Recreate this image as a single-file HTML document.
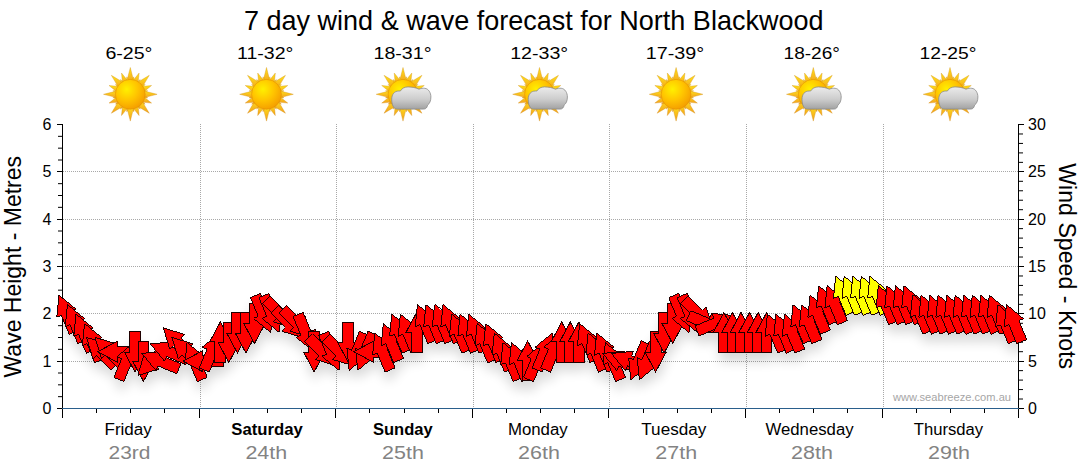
<!DOCTYPE html><html><head><meta charset="utf-8"><style>html,body{margin:0;padding:0;background:#fff;}svg{display:block;}text{font-family:"Liberation Sans",sans-serif;}</style></head><body>
<svg width="1080" height="475" viewBox="0 0 1080 475">
<defs>
<radialGradient id="disc" cx="0.38" cy="0.33" r="0.75">
<stop offset="0" stop-color="#fff000"/><stop offset="0.5" stop-color="#ffc400"/><stop offset="1" stop-color="#f39800"/></radialGradient>
<linearGradient id="ray" x1="0" y1="0" x2="0" y2="1">
<stop offset="0" stop-color="#ffe21a"/><stop offset="1" stop-color="#f3a01e"/></linearGradient>
<linearGradient id="cloud" x1="0" y1="0" x2="0" y2="1">
<stop offset="0" stop-color="#ebebeb"/><stop offset="0.55" stop-color="#cdcdcd"/><stop offset="1" stop-color="#a2a2a2"/></linearGradient>
<clipPath id="plotclip"><rect x="63" y="100" width="955" height="308"/></clipPath>
<filter id="shadow" x="-20%" y="-50%" width="140%" height="250%"><feGaussianBlur stdDeviation="6"/></filter>
</defs>
<rect width="1080" height="475" fill="#fff"/>
<text x="244" y="29.7" font-size="28.3" textLength="579.5" lengthAdjust="spacingAndGlyphs" fill="#000">7 day wind &amp; wave forecast for North Blackwood</text>
<text x="105.4" y="58.7" font-size="16" textLength="47" lengthAdjust="spacingAndGlyphs" fill="#000">6-25°</text>
<text x="237.0" y="58.7" font-size="16" textLength="56.3" lengthAdjust="spacingAndGlyphs" fill="#000">11-32°</text>
<text x="373.5" y="58.7" font-size="16" textLength="58" lengthAdjust="spacingAndGlyphs" fill="#000">18-31°</text>
<text x="510.2" y="58.7" font-size="16" textLength="58" lengthAdjust="spacingAndGlyphs" fill="#000">12-33°</text>
<text x="645.8" y="58.7" font-size="16" textLength="58.4" lengthAdjust="spacingAndGlyphs" fill="#000">17-39°</text>
<text x="783.6" y="58.7" font-size="16" textLength="56.3" lengthAdjust="spacingAndGlyphs" fill="#000">18-26°</text>
<text x="919.5" y="58.7" font-size="16" textLength="57" lengthAdjust="spacingAndGlyphs" fill="#000">12-25°</text>
<g transform="translate(130.3,94.3)"><path d="M0.00,-26.80L4.00,-11.00L-4.00,-11.00Z" fill="url(#ray)" stroke="#d08a10" stroke-width="0.35"/><path d="M3.47,-17.46L4.30,-10.36L-0.01,-11.22Z" fill="url(#ray)" stroke="#d08a10" stroke-width="0.35"/><path d="M8.80,-21.25L7.54,-8.79L0.88,-11.54Z" fill="url(#ray)" stroke="#d08a10" stroke-width="0.35"/><path d="M9.89,-14.80L7.94,-7.92L4.28,-10.37Z" fill="url(#ray)" stroke="#d08a10" stroke-width="0.35"/><path d="M18.95,-18.95L10.61,-4.95L4.95,-10.61Z" fill="url(#ray)" stroke="#d08a10" stroke-width="0.35"/><path d="M14.80,-9.89L10.37,-4.28L7.92,-7.94Z" fill="url(#ray)" stroke="#d08a10" stroke-width="0.35"/><path d="M21.25,-8.80L11.54,-0.88L8.79,-7.54Z" fill="url(#ray)" stroke="#d08a10" stroke-width="0.35"/><path d="M17.46,-3.47L11.22,0.01L10.36,-4.30Z" fill="url(#ray)" stroke="#d08a10" stroke-width="0.35"/><path d="M26.80,-0.00L11.00,4.00L11.00,-4.00Z" fill="url(#ray)" stroke="#d08a10" stroke-width="0.35"/><path d="M17.46,3.47L10.36,4.30L11.22,-0.01Z" fill="url(#ray)" stroke="#d08a10" stroke-width="0.35"/><path d="M21.25,8.80L8.79,7.54L11.54,0.88Z" fill="url(#ray)" stroke="#d08a10" stroke-width="0.35"/><path d="M14.80,9.89L7.92,7.94L10.37,4.28Z" fill="url(#ray)" stroke="#d08a10" stroke-width="0.35"/><path d="M18.95,18.95L4.95,10.61L10.61,4.95Z" fill="url(#ray)" stroke="#d08a10" stroke-width="0.35"/><path d="M9.89,14.80L4.28,10.37L7.94,7.92Z" fill="url(#ray)" stroke="#d08a10" stroke-width="0.35"/><path d="M8.80,21.25L0.88,11.54L7.54,8.79Z" fill="url(#ray)" stroke="#d08a10" stroke-width="0.35"/><path d="M3.47,17.46L-0.01,11.22L4.30,10.36Z" fill="url(#ray)" stroke="#d08a10" stroke-width="0.35"/><path d="M0.00,26.80L-4.00,11.00L4.00,11.00Z" fill="url(#ray)" stroke="#d08a10" stroke-width="0.35"/><path d="M-3.47,17.46L-4.30,10.36L0.01,11.22Z" fill="url(#ray)" stroke="#d08a10" stroke-width="0.35"/><path d="M-8.80,21.25L-7.54,8.79L-0.88,11.54Z" fill="url(#ray)" stroke="#d08a10" stroke-width="0.35"/><path d="M-9.89,14.80L-7.94,7.92L-4.28,10.37Z" fill="url(#ray)" stroke="#d08a10" stroke-width="0.35"/><path d="M-18.95,18.95L-10.61,4.95L-4.95,10.61Z" fill="url(#ray)" stroke="#d08a10" stroke-width="0.35"/><path d="M-14.80,9.89L-10.37,4.28L-7.92,7.94Z" fill="url(#ray)" stroke="#d08a10" stroke-width="0.35"/><path d="M-21.25,8.80L-11.54,0.88L-8.79,7.54Z" fill="url(#ray)" stroke="#d08a10" stroke-width="0.35"/><path d="M-17.46,3.47L-11.22,-0.01L-10.36,4.30Z" fill="url(#ray)" stroke="#d08a10" stroke-width="0.35"/><path d="M-26.80,0.00L-11.00,-4.00L-11.00,4.00Z" fill="url(#ray)" stroke="#d08a10" stroke-width="0.35"/><path d="M-17.46,-3.47L-10.36,-4.30L-11.22,0.01Z" fill="url(#ray)" stroke="#d08a10" stroke-width="0.35"/><path d="M-21.25,-8.80L-8.79,-7.54L-11.54,-0.88Z" fill="url(#ray)" stroke="#d08a10" stroke-width="0.35"/><path d="M-14.80,-9.89L-7.92,-7.94L-10.37,-4.28Z" fill="url(#ray)" stroke="#d08a10" stroke-width="0.35"/><path d="M-18.95,-18.95L-4.95,-10.61L-10.61,-4.95Z" fill="url(#ray)" stroke="#d08a10" stroke-width="0.35"/><path d="M-9.89,-14.80L-4.28,-10.37L-7.94,-7.92Z" fill="url(#ray)" stroke="#d08a10" stroke-width="0.35"/><path d="M-8.80,-21.25L-0.88,-11.54L-7.54,-8.79Z" fill="url(#ray)" stroke="#d08a10" stroke-width="0.35"/><path d="M-3.47,-17.46L0.01,-11.22L-4.30,-10.36Z" fill="url(#ray)" stroke="#d08a10" stroke-width="0.35"/><circle r="14.9" fill="url(#disc)" stroke="#e08a00" stroke-width="0.5"/></g>
<g transform="translate(266.5,94.3)"><path d="M0.00,-26.80L4.00,-11.00L-4.00,-11.00Z" fill="url(#ray)" stroke="#d08a10" stroke-width="0.35"/><path d="M3.47,-17.46L4.30,-10.36L-0.01,-11.22Z" fill="url(#ray)" stroke="#d08a10" stroke-width="0.35"/><path d="M8.80,-21.25L7.54,-8.79L0.88,-11.54Z" fill="url(#ray)" stroke="#d08a10" stroke-width="0.35"/><path d="M9.89,-14.80L7.94,-7.92L4.28,-10.37Z" fill="url(#ray)" stroke="#d08a10" stroke-width="0.35"/><path d="M18.95,-18.95L10.61,-4.95L4.95,-10.61Z" fill="url(#ray)" stroke="#d08a10" stroke-width="0.35"/><path d="M14.80,-9.89L10.37,-4.28L7.92,-7.94Z" fill="url(#ray)" stroke="#d08a10" stroke-width="0.35"/><path d="M21.25,-8.80L11.54,-0.88L8.79,-7.54Z" fill="url(#ray)" stroke="#d08a10" stroke-width="0.35"/><path d="M17.46,-3.47L11.22,0.01L10.36,-4.30Z" fill="url(#ray)" stroke="#d08a10" stroke-width="0.35"/><path d="M26.80,-0.00L11.00,4.00L11.00,-4.00Z" fill="url(#ray)" stroke="#d08a10" stroke-width="0.35"/><path d="M17.46,3.47L10.36,4.30L11.22,-0.01Z" fill="url(#ray)" stroke="#d08a10" stroke-width="0.35"/><path d="M21.25,8.80L8.79,7.54L11.54,0.88Z" fill="url(#ray)" stroke="#d08a10" stroke-width="0.35"/><path d="M14.80,9.89L7.92,7.94L10.37,4.28Z" fill="url(#ray)" stroke="#d08a10" stroke-width="0.35"/><path d="M18.95,18.95L4.95,10.61L10.61,4.95Z" fill="url(#ray)" stroke="#d08a10" stroke-width="0.35"/><path d="M9.89,14.80L4.28,10.37L7.94,7.92Z" fill="url(#ray)" stroke="#d08a10" stroke-width="0.35"/><path d="M8.80,21.25L0.88,11.54L7.54,8.79Z" fill="url(#ray)" stroke="#d08a10" stroke-width="0.35"/><path d="M3.47,17.46L-0.01,11.22L4.30,10.36Z" fill="url(#ray)" stroke="#d08a10" stroke-width="0.35"/><path d="M0.00,26.80L-4.00,11.00L4.00,11.00Z" fill="url(#ray)" stroke="#d08a10" stroke-width="0.35"/><path d="M-3.47,17.46L-4.30,10.36L0.01,11.22Z" fill="url(#ray)" stroke="#d08a10" stroke-width="0.35"/><path d="M-8.80,21.25L-7.54,8.79L-0.88,11.54Z" fill="url(#ray)" stroke="#d08a10" stroke-width="0.35"/><path d="M-9.89,14.80L-7.94,7.92L-4.28,10.37Z" fill="url(#ray)" stroke="#d08a10" stroke-width="0.35"/><path d="M-18.95,18.95L-10.61,4.95L-4.95,10.61Z" fill="url(#ray)" stroke="#d08a10" stroke-width="0.35"/><path d="M-14.80,9.89L-10.37,4.28L-7.92,7.94Z" fill="url(#ray)" stroke="#d08a10" stroke-width="0.35"/><path d="M-21.25,8.80L-11.54,0.88L-8.79,7.54Z" fill="url(#ray)" stroke="#d08a10" stroke-width="0.35"/><path d="M-17.46,3.47L-11.22,-0.01L-10.36,4.30Z" fill="url(#ray)" stroke="#d08a10" stroke-width="0.35"/><path d="M-26.80,0.00L-11.00,-4.00L-11.00,4.00Z" fill="url(#ray)" stroke="#d08a10" stroke-width="0.35"/><path d="M-17.46,-3.47L-10.36,-4.30L-11.22,0.01Z" fill="url(#ray)" stroke="#d08a10" stroke-width="0.35"/><path d="M-21.25,-8.80L-8.79,-7.54L-11.54,-0.88Z" fill="url(#ray)" stroke="#d08a10" stroke-width="0.35"/><path d="M-14.80,-9.89L-7.92,-7.94L-10.37,-4.28Z" fill="url(#ray)" stroke="#d08a10" stroke-width="0.35"/><path d="M-18.95,-18.95L-4.95,-10.61L-10.61,-4.95Z" fill="url(#ray)" stroke="#d08a10" stroke-width="0.35"/><path d="M-9.89,-14.80L-4.28,-10.37L-7.94,-7.92Z" fill="url(#ray)" stroke="#d08a10" stroke-width="0.35"/><path d="M-8.80,-21.25L-0.88,-11.54L-7.54,-8.79Z" fill="url(#ray)" stroke="#d08a10" stroke-width="0.35"/><path d="M-3.47,-17.46L0.01,-11.22L-4.30,-10.36Z" fill="url(#ray)" stroke="#d08a10" stroke-width="0.35"/><circle r="14.9" fill="url(#disc)" stroke="#e08a00" stroke-width="0.5"/></g>
<g transform="translate(403,94.3)"><path d="M0.00,-26.80L4.00,-11.00L-4.00,-11.00Z" fill="url(#ray)" stroke="#d08a10" stroke-width="0.35"/><path d="M3.47,-17.46L4.30,-10.36L-0.01,-11.22Z" fill="url(#ray)" stroke="#d08a10" stroke-width="0.35"/><path d="M8.80,-21.25L7.54,-8.79L0.88,-11.54Z" fill="url(#ray)" stroke="#d08a10" stroke-width="0.35"/><path d="M9.89,-14.80L7.94,-7.92L4.28,-10.37Z" fill="url(#ray)" stroke="#d08a10" stroke-width="0.35"/><path d="M18.95,-18.95L10.61,-4.95L4.95,-10.61Z" fill="url(#ray)" stroke="#d08a10" stroke-width="0.35"/><path d="M14.80,-9.89L10.37,-4.28L7.92,-7.94Z" fill="url(#ray)" stroke="#d08a10" stroke-width="0.35"/><path d="M21.25,-8.80L11.54,-0.88L8.79,-7.54Z" fill="url(#ray)" stroke="#d08a10" stroke-width="0.35"/><path d="M17.46,-3.47L11.22,0.01L10.36,-4.30Z" fill="url(#ray)" stroke="#d08a10" stroke-width="0.35"/><path d="M26.80,-0.00L11.00,4.00L11.00,-4.00Z" fill="url(#ray)" stroke="#d08a10" stroke-width="0.35"/><path d="M17.46,3.47L10.36,4.30L11.22,-0.01Z" fill="url(#ray)" stroke="#d08a10" stroke-width="0.35"/><path d="M21.25,8.80L8.79,7.54L11.54,0.88Z" fill="url(#ray)" stroke="#d08a10" stroke-width="0.35"/><path d="M14.80,9.89L7.92,7.94L10.37,4.28Z" fill="url(#ray)" stroke="#d08a10" stroke-width="0.35"/><path d="M18.95,18.95L4.95,10.61L10.61,4.95Z" fill="url(#ray)" stroke="#d08a10" stroke-width="0.35"/><path d="M9.89,14.80L4.28,10.37L7.94,7.92Z" fill="url(#ray)" stroke="#d08a10" stroke-width="0.35"/><path d="M8.80,21.25L0.88,11.54L7.54,8.79Z" fill="url(#ray)" stroke="#d08a10" stroke-width="0.35"/><path d="M3.47,17.46L-0.01,11.22L4.30,10.36Z" fill="url(#ray)" stroke="#d08a10" stroke-width="0.35"/><path d="M0.00,26.80L-4.00,11.00L4.00,11.00Z" fill="url(#ray)" stroke="#d08a10" stroke-width="0.35"/><path d="M-3.47,17.46L-4.30,10.36L0.01,11.22Z" fill="url(#ray)" stroke="#d08a10" stroke-width="0.35"/><path d="M-8.80,21.25L-7.54,8.79L-0.88,11.54Z" fill="url(#ray)" stroke="#d08a10" stroke-width="0.35"/><path d="M-9.89,14.80L-7.94,7.92L-4.28,10.37Z" fill="url(#ray)" stroke="#d08a10" stroke-width="0.35"/><path d="M-18.95,18.95L-10.61,4.95L-4.95,10.61Z" fill="url(#ray)" stroke="#d08a10" stroke-width="0.35"/><path d="M-14.80,9.89L-10.37,4.28L-7.92,7.94Z" fill="url(#ray)" stroke="#d08a10" stroke-width="0.35"/><path d="M-21.25,8.80L-11.54,0.88L-8.79,7.54Z" fill="url(#ray)" stroke="#d08a10" stroke-width="0.35"/><path d="M-17.46,3.47L-11.22,-0.01L-10.36,4.30Z" fill="url(#ray)" stroke="#d08a10" stroke-width="0.35"/><path d="M-26.80,0.00L-11.00,-4.00L-11.00,4.00Z" fill="url(#ray)" stroke="#d08a10" stroke-width="0.35"/><path d="M-17.46,-3.47L-10.36,-4.30L-11.22,0.01Z" fill="url(#ray)" stroke="#d08a10" stroke-width="0.35"/><path d="M-21.25,-8.80L-8.79,-7.54L-11.54,-0.88Z" fill="url(#ray)" stroke="#d08a10" stroke-width="0.35"/><path d="M-14.80,-9.89L-7.92,-7.94L-10.37,-4.28Z" fill="url(#ray)" stroke="#d08a10" stroke-width="0.35"/><path d="M-18.95,-18.95L-4.95,-10.61L-10.61,-4.95Z" fill="url(#ray)" stroke="#d08a10" stroke-width="0.35"/><path d="M-9.89,-14.80L-4.28,-10.37L-7.94,-7.92Z" fill="url(#ray)" stroke="#d08a10" stroke-width="0.35"/><path d="M-8.80,-21.25L-0.88,-11.54L-7.54,-8.79Z" fill="url(#ray)" stroke="#d08a10" stroke-width="0.35"/><path d="M-3.47,-17.46L0.01,-11.22L-4.30,-10.36Z" fill="url(#ray)" stroke="#d08a10" stroke-width="0.35"/><circle r="14.9" fill="url(#disc)" stroke="#e08a00" stroke-width="0.5"/></g>
<g transform="translate(403,94.3)"><path d="M-6,14.8 C-9.6,14.8 -11.3,10 -11.3,5 C-11.3,0 -8.5,-3.3 -4.2,-3.3 L-2.6,-3.3 C-1.2,-6 1.8,-7.4 5,-7.4 C9,-7.4 13,-6.6 16,-5.1 C18,-6 20,-6.2 21.8,-6 C25.5,-5.6 27.9,-1.6 27.9,2.7 C27.9,6.5 26.6,9.4 24.6,10.8 C24.1,13.2 23,14.8 20.6,14.8 Z" fill="url(#cloud)" stroke="#8a8a8a" stroke-width="0.8"/></g>
<g transform="translate(539.5,94.3)"><path d="M0.00,-26.80L4.00,-11.00L-4.00,-11.00Z" fill="url(#ray)" stroke="#d08a10" stroke-width="0.35"/><path d="M3.47,-17.46L4.30,-10.36L-0.01,-11.22Z" fill="url(#ray)" stroke="#d08a10" stroke-width="0.35"/><path d="M8.80,-21.25L7.54,-8.79L0.88,-11.54Z" fill="url(#ray)" stroke="#d08a10" stroke-width="0.35"/><path d="M9.89,-14.80L7.94,-7.92L4.28,-10.37Z" fill="url(#ray)" stroke="#d08a10" stroke-width="0.35"/><path d="M18.95,-18.95L10.61,-4.95L4.95,-10.61Z" fill="url(#ray)" stroke="#d08a10" stroke-width="0.35"/><path d="M14.80,-9.89L10.37,-4.28L7.92,-7.94Z" fill="url(#ray)" stroke="#d08a10" stroke-width="0.35"/><path d="M21.25,-8.80L11.54,-0.88L8.79,-7.54Z" fill="url(#ray)" stroke="#d08a10" stroke-width="0.35"/><path d="M17.46,-3.47L11.22,0.01L10.36,-4.30Z" fill="url(#ray)" stroke="#d08a10" stroke-width="0.35"/><path d="M26.80,-0.00L11.00,4.00L11.00,-4.00Z" fill="url(#ray)" stroke="#d08a10" stroke-width="0.35"/><path d="M17.46,3.47L10.36,4.30L11.22,-0.01Z" fill="url(#ray)" stroke="#d08a10" stroke-width="0.35"/><path d="M21.25,8.80L8.79,7.54L11.54,0.88Z" fill="url(#ray)" stroke="#d08a10" stroke-width="0.35"/><path d="M14.80,9.89L7.92,7.94L10.37,4.28Z" fill="url(#ray)" stroke="#d08a10" stroke-width="0.35"/><path d="M18.95,18.95L4.95,10.61L10.61,4.95Z" fill="url(#ray)" stroke="#d08a10" stroke-width="0.35"/><path d="M9.89,14.80L4.28,10.37L7.94,7.92Z" fill="url(#ray)" stroke="#d08a10" stroke-width="0.35"/><path d="M8.80,21.25L0.88,11.54L7.54,8.79Z" fill="url(#ray)" stroke="#d08a10" stroke-width="0.35"/><path d="M3.47,17.46L-0.01,11.22L4.30,10.36Z" fill="url(#ray)" stroke="#d08a10" stroke-width="0.35"/><path d="M0.00,26.80L-4.00,11.00L4.00,11.00Z" fill="url(#ray)" stroke="#d08a10" stroke-width="0.35"/><path d="M-3.47,17.46L-4.30,10.36L0.01,11.22Z" fill="url(#ray)" stroke="#d08a10" stroke-width="0.35"/><path d="M-8.80,21.25L-7.54,8.79L-0.88,11.54Z" fill="url(#ray)" stroke="#d08a10" stroke-width="0.35"/><path d="M-9.89,14.80L-7.94,7.92L-4.28,10.37Z" fill="url(#ray)" stroke="#d08a10" stroke-width="0.35"/><path d="M-18.95,18.95L-10.61,4.95L-4.95,10.61Z" fill="url(#ray)" stroke="#d08a10" stroke-width="0.35"/><path d="M-14.80,9.89L-10.37,4.28L-7.92,7.94Z" fill="url(#ray)" stroke="#d08a10" stroke-width="0.35"/><path d="M-21.25,8.80L-11.54,0.88L-8.79,7.54Z" fill="url(#ray)" stroke="#d08a10" stroke-width="0.35"/><path d="M-17.46,3.47L-11.22,-0.01L-10.36,4.30Z" fill="url(#ray)" stroke="#d08a10" stroke-width="0.35"/><path d="M-26.80,0.00L-11.00,-4.00L-11.00,4.00Z" fill="url(#ray)" stroke="#d08a10" stroke-width="0.35"/><path d="M-17.46,-3.47L-10.36,-4.30L-11.22,0.01Z" fill="url(#ray)" stroke="#d08a10" stroke-width="0.35"/><path d="M-21.25,-8.80L-8.79,-7.54L-11.54,-0.88Z" fill="url(#ray)" stroke="#d08a10" stroke-width="0.35"/><path d="M-14.80,-9.89L-7.92,-7.94L-10.37,-4.28Z" fill="url(#ray)" stroke="#d08a10" stroke-width="0.35"/><path d="M-18.95,-18.95L-4.95,-10.61L-10.61,-4.95Z" fill="url(#ray)" stroke="#d08a10" stroke-width="0.35"/><path d="M-9.89,-14.80L-4.28,-10.37L-7.94,-7.92Z" fill="url(#ray)" stroke="#d08a10" stroke-width="0.35"/><path d="M-8.80,-21.25L-0.88,-11.54L-7.54,-8.79Z" fill="url(#ray)" stroke="#d08a10" stroke-width="0.35"/><path d="M-3.47,-17.46L0.01,-11.22L-4.30,-10.36Z" fill="url(#ray)" stroke="#d08a10" stroke-width="0.35"/><circle r="14.9" fill="url(#disc)" stroke="#e08a00" stroke-width="0.5"/></g>
<g transform="translate(539.5,94.3)"><path d="M-6,14.8 C-9.6,14.8 -11.3,10 -11.3,5 C-11.3,0 -8.5,-3.3 -4.2,-3.3 L-2.6,-3.3 C-1.2,-6 1.8,-7.4 5,-7.4 C9,-7.4 13,-6.6 16,-5.1 C18,-6 20,-6.2 21.8,-6 C25.5,-5.6 27.9,-1.6 27.9,2.7 C27.9,6.5 26.6,9.4 24.6,10.8 C24.1,13.2 23,14.8 20.6,14.8 Z" fill="url(#cloud)" stroke="#8a8a8a" stroke-width="0.8"/></g>
<g transform="translate(676.1,94.3)"><path d="M0.00,-26.80L4.00,-11.00L-4.00,-11.00Z" fill="url(#ray)" stroke="#d08a10" stroke-width="0.35"/><path d="M3.47,-17.46L4.30,-10.36L-0.01,-11.22Z" fill="url(#ray)" stroke="#d08a10" stroke-width="0.35"/><path d="M8.80,-21.25L7.54,-8.79L0.88,-11.54Z" fill="url(#ray)" stroke="#d08a10" stroke-width="0.35"/><path d="M9.89,-14.80L7.94,-7.92L4.28,-10.37Z" fill="url(#ray)" stroke="#d08a10" stroke-width="0.35"/><path d="M18.95,-18.95L10.61,-4.95L4.95,-10.61Z" fill="url(#ray)" stroke="#d08a10" stroke-width="0.35"/><path d="M14.80,-9.89L10.37,-4.28L7.92,-7.94Z" fill="url(#ray)" stroke="#d08a10" stroke-width="0.35"/><path d="M21.25,-8.80L11.54,-0.88L8.79,-7.54Z" fill="url(#ray)" stroke="#d08a10" stroke-width="0.35"/><path d="M17.46,-3.47L11.22,0.01L10.36,-4.30Z" fill="url(#ray)" stroke="#d08a10" stroke-width="0.35"/><path d="M26.80,-0.00L11.00,4.00L11.00,-4.00Z" fill="url(#ray)" stroke="#d08a10" stroke-width="0.35"/><path d="M17.46,3.47L10.36,4.30L11.22,-0.01Z" fill="url(#ray)" stroke="#d08a10" stroke-width="0.35"/><path d="M21.25,8.80L8.79,7.54L11.54,0.88Z" fill="url(#ray)" stroke="#d08a10" stroke-width="0.35"/><path d="M14.80,9.89L7.92,7.94L10.37,4.28Z" fill="url(#ray)" stroke="#d08a10" stroke-width="0.35"/><path d="M18.95,18.95L4.95,10.61L10.61,4.95Z" fill="url(#ray)" stroke="#d08a10" stroke-width="0.35"/><path d="M9.89,14.80L4.28,10.37L7.94,7.92Z" fill="url(#ray)" stroke="#d08a10" stroke-width="0.35"/><path d="M8.80,21.25L0.88,11.54L7.54,8.79Z" fill="url(#ray)" stroke="#d08a10" stroke-width="0.35"/><path d="M3.47,17.46L-0.01,11.22L4.30,10.36Z" fill="url(#ray)" stroke="#d08a10" stroke-width="0.35"/><path d="M0.00,26.80L-4.00,11.00L4.00,11.00Z" fill="url(#ray)" stroke="#d08a10" stroke-width="0.35"/><path d="M-3.47,17.46L-4.30,10.36L0.01,11.22Z" fill="url(#ray)" stroke="#d08a10" stroke-width="0.35"/><path d="M-8.80,21.25L-7.54,8.79L-0.88,11.54Z" fill="url(#ray)" stroke="#d08a10" stroke-width="0.35"/><path d="M-9.89,14.80L-7.94,7.92L-4.28,10.37Z" fill="url(#ray)" stroke="#d08a10" stroke-width="0.35"/><path d="M-18.95,18.95L-10.61,4.95L-4.95,10.61Z" fill="url(#ray)" stroke="#d08a10" stroke-width="0.35"/><path d="M-14.80,9.89L-10.37,4.28L-7.92,7.94Z" fill="url(#ray)" stroke="#d08a10" stroke-width="0.35"/><path d="M-21.25,8.80L-11.54,0.88L-8.79,7.54Z" fill="url(#ray)" stroke="#d08a10" stroke-width="0.35"/><path d="M-17.46,3.47L-11.22,-0.01L-10.36,4.30Z" fill="url(#ray)" stroke="#d08a10" stroke-width="0.35"/><path d="M-26.80,0.00L-11.00,-4.00L-11.00,4.00Z" fill="url(#ray)" stroke="#d08a10" stroke-width="0.35"/><path d="M-17.46,-3.47L-10.36,-4.30L-11.22,0.01Z" fill="url(#ray)" stroke="#d08a10" stroke-width="0.35"/><path d="M-21.25,-8.80L-8.79,-7.54L-11.54,-0.88Z" fill="url(#ray)" stroke="#d08a10" stroke-width="0.35"/><path d="M-14.80,-9.89L-7.92,-7.94L-10.37,-4.28Z" fill="url(#ray)" stroke="#d08a10" stroke-width="0.35"/><path d="M-18.95,-18.95L-4.95,-10.61L-10.61,-4.95Z" fill="url(#ray)" stroke="#d08a10" stroke-width="0.35"/><path d="M-9.89,-14.80L-4.28,-10.37L-7.94,-7.92Z" fill="url(#ray)" stroke="#d08a10" stroke-width="0.35"/><path d="M-8.80,-21.25L-0.88,-11.54L-7.54,-8.79Z" fill="url(#ray)" stroke="#d08a10" stroke-width="0.35"/><path d="M-3.47,-17.46L0.01,-11.22L-4.30,-10.36Z" fill="url(#ray)" stroke="#d08a10" stroke-width="0.35"/><circle r="14.9" fill="url(#disc)" stroke="#e08a00" stroke-width="0.5"/></g>
<g transform="translate(813.3,94.3)"><path d="M0.00,-26.80L4.00,-11.00L-4.00,-11.00Z" fill="url(#ray)" stroke="#d08a10" stroke-width="0.35"/><path d="M3.47,-17.46L4.30,-10.36L-0.01,-11.22Z" fill="url(#ray)" stroke="#d08a10" stroke-width="0.35"/><path d="M8.80,-21.25L7.54,-8.79L0.88,-11.54Z" fill="url(#ray)" stroke="#d08a10" stroke-width="0.35"/><path d="M9.89,-14.80L7.94,-7.92L4.28,-10.37Z" fill="url(#ray)" stroke="#d08a10" stroke-width="0.35"/><path d="M18.95,-18.95L10.61,-4.95L4.95,-10.61Z" fill="url(#ray)" stroke="#d08a10" stroke-width="0.35"/><path d="M14.80,-9.89L10.37,-4.28L7.92,-7.94Z" fill="url(#ray)" stroke="#d08a10" stroke-width="0.35"/><path d="M21.25,-8.80L11.54,-0.88L8.79,-7.54Z" fill="url(#ray)" stroke="#d08a10" stroke-width="0.35"/><path d="M17.46,-3.47L11.22,0.01L10.36,-4.30Z" fill="url(#ray)" stroke="#d08a10" stroke-width="0.35"/><path d="M26.80,-0.00L11.00,4.00L11.00,-4.00Z" fill="url(#ray)" stroke="#d08a10" stroke-width="0.35"/><path d="M17.46,3.47L10.36,4.30L11.22,-0.01Z" fill="url(#ray)" stroke="#d08a10" stroke-width="0.35"/><path d="M21.25,8.80L8.79,7.54L11.54,0.88Z" fill="url(#ray)" stroke="#d08a10" stroke-width="0.35"/><path d="M14.80,9.89L7.92,7.94L10.37,4.28Z" fill="url(#ray)" stroke="#d08a10" stroke-width="0.35"/><path d="M18.95,18.95L4.95,10.61L10.61,4.95Z" fill="url(#ray)" stroke="#d08a10" stroke-width="0.35"/><path d="M9.89,14.80L4.28,10.37L7.94,7.92Z" fill="url(#ray)" stroke="#d08a10" stroke-width="0.35"/><path d="M8.80,21.25L0.88,11.54L7.54,8.79Z" fill="url(#ray)" stroke="#d08a10" stroke-width="0.35"/><path d="M3.47,17.46L-0.01,11.22L4.30,10.36Z" fill="url(#ray)" stroke="#d08a10" stroke-width="0.35"/><path d="M0.00,26.80L-4.00,11.00L4.00,11.00Z" fill="url(#ray)" stroke="#d08a10" stroke-width="0.35"/><path d="M-3.47,17.46L-4.30,10.36L0.01,11.22Z" fill="url(#ray)" stroke="#d08a10" stroke-width="0.35"/><path d="M-8.80,21.25L-7.54,8.79L-0.88,11.54Z" fill="url(#ray)" stroke="#d08a10" stroke-width="0.35"/><path d="M-9.89,14.80L-7.94,7.92L-4.28,10.37Z" fill="url(#ray)" stroke="#d08a10" stroke-width="0.35"/><path d="M-18.95,18.95L-10.61,4.95L-4.95,10.61Z" fill="url(#ray)" stroke="#d08a10" stroke-width="0.35"/><path d="M-14.80,9.89L-10.37,4.28L-7.92,7.94Z" fill="url(#ray)" stroke="#d08a10" stroke-width="0.35"/><path d="M-21.25,8.80L-11.54,0.88L-8.79,7.54Z" fill="url(#ray)" stroke="#d08a10" stroke-width="0.35"/><path d="M-17.46,3.47L-11.22,-0.01L-10.36,4.30Z" fill="url(#ray)" stroke="#d08a10" stroke-width="0.35"/><path d="M-26.80,0.00L-11.00,-4.00L-11.00,4.00Z" fill="url(#ray)" stroke="#d08a10" stroke-width="0.35"/><path d="M-17.46,-3.47L-10.36,-4.30L-11.22,0.01Z" fill="url(#ray)" stroke="#d08a10" stroke-width="0.35"/><path d="M-21.25,-8.80L-8.79,-7.54L-11.54,-0.88Z" fill="url(#ray)" stroke="#d08a10" stroke-width="0.35"/><path d="M-14.80,-9.89L-7.92,-7.94L-10.37,-4.28Z" fill="url(#ray)" stroke="#d08a10" stroke-width="0.35"/><path d="M-18.95,-18.95L-4.95,-10.61L-10.61,-4.95Z" fill="url(#ray)" stroke="#d08a10" stroke-width="0.35"/><path d="M-9.89,-14.80L-4.28,-10.37L-7.94,-7.92Z" fill="url(#ray)" stroke="#d08a10" stroke-width="0.35"/><path d="M-8.80,-21.25L-0.88,-11.54L-7.54,-8.79Z" fill="url(#ray)" stroke="#d08a10" stroke-width="0.35"/><path d="M-3.47,-17.46L0.01,-11.22L-4.30,-10.36Z" fill="url(#ray)" stroke="#d08a10" stroke-width="0.35"/><circle r="14.9" fill="url(#disc)" stroke="#e08a00" stroke-width="0.5"/></g>
<g transform="translate(813.3,94.3)"><path d="M-6,14.8 C-9.6,14.8 -11.3,10 -11.3,5 C-11.3,0 -8.5,-3.3 -4.2,-3.3 L-2.6,-3.3 C-1.2,-6 1.8,-7.4 5,-7.4 C9,-7.4 13,-6.6 16,-5.1 C18,-6 20,-6.2 21.8,-6 C25.5,-5.6 27.9,-1.6 27.9,2.7 C27.9,6.5 26.6,9.4 24.6,10.8 C24.1,13.2 23,14.8 20.6,14.8 Z" fill="url(#cloud)" stroke="#8a8a8a" stroke-width="0.8"/></g>
<g transform="translate(950,94.3)"><path d="M0.00,-26.80L4.00,-11.00L-4.00,-11.00Z" fill="url(#ray)" stroke="#d08a10" stroke-width="0.35"/><path d="M3.47,-17.46L4.30,-10.36L-0.01,-11.22Z" fill="url(#ray)" stroke="#d08a10" stroke-width="0.35"/><path d="M8.80,-21.25L7.54,-8.79L0.88,-11.54Z" fill="url(#ray)" stroke="#d08a10" stroke-width="0.35"/><path d="M9.89,-14.80L7.94,-7.92L4.28,-10.37Z" fill="url(#ray)" stroke="#d08a10" stroke-width="0.35"/><path d="M18.95,-18.95L10.61,-4.95L4.95,-10.61Z" fill="url(#ray)" stroke="#d08a10" stroke-width="0.35"/><path d="M14.80,-9.89L10.37,-4.28L7.92,-7.94Z" fill="url(#ray)" stroke="#d08a10" stroke-width="0.35"/><path d="M21.25,-8.80L11.54,-0.88L8.79,-7.54Z" fill="url(#ray)" stroke="#d08a10" stroke-width="0.35"/><path d="M17.46,-3.47L11.22,0.01L10.36,-4.30Z" fill="url(#ray)" stroke="#d08a10" stroke-width="0.35"/><path d="M26.80,-0.00L11.00,4.00L11.00,-4.00Z" fill="url(#ray)" stroke="#d08a10" stroke-width="0.35"/><path d="M17.46,3.47L10.36,4.30L11.22,-0.01Z" fill="url(#ray)" stroke="#d08a10" stroke-width="0.35"/><path d="M21.25,8.80L8.79,7.54L11.54,0.88Z" fill="url(#ray)" stroke="#d08a10" stroke-width="0.35"/><path d="M14.80,9.89L7.92,7.94L10.37,4.28Z" fill="url(#ray)" stroke="#d08a10" stroke-width="0.35"/><path d="M18.95,18.95L4.95,10.61L10.61,4.95Z" fill="url(#ray)" stroke="#d08a10" stroke-width="0.35"/><path d="M9.89,14.80L4.28,10.37L7.94,7.92Z" fill="url(#ray)" stroke="#d08a10" stroke-width="0.35"/><path d="M8.80,21.25L0.88,11.54L7.54,8.79Z" fill="url(#ray)" stroke="#d08a10" stroke-width="0.35"/><path d="M3.47,17.46L-0.01,11.22L4.30,10.36Z" fill="url(#ray)" stroke="#d08a10" stroke-width="0.35"/><path d="M0.00,26.80L-4.00,11.00L4.00,11.00Z" fill="url(#ray)" stroke="#d08a10" stroke-width="0.35"/><path d="M-3.47,17.46L-4.30,10.36L0.01,11.22Z" fill="url(#ray)" stroke="#d08a10" stroke-width="0.35"/><path d="M-8.80,21.25L-7.54,8.79L-0.88,11.54Z" fill="url(#ray)" stroke="#d08a10" stroke-width="0.35"/><path d="M-9.89,14.80L-7.94,7.92L-4.28,10.37Z" fill="url(#ray)" stroke="#d08a10" stroke-width="0.35"/><path d="M-18.95,18.95L-10.61,4.95L-4.95,10.61Z" fill="url(#ray)" stroke="#d08a10" stroke-width="0.35"/><path d="M-14.80,9.89L-10.37,4.28L-7.92,7.94Z" fill="url(#ray)" stroke="#d08a10" stroke-width="0.35"/><path d="M-21.25,8.80L-11.54,0.88L-8.79,7.54Z" fill="url(#ray)" stroke="#d08a10" stroke-width="0.35"/><path d="M-17.46,3.47L-11.22,-0.01L-10.36,4.30Z" fill="url(#ray)" stroke="#d08a10" stroke-width="0.35"/><path d="M-26.80,0.00L-11.00,-4.00L-11.00,4.00Z" fill="url(#ray)" stroke="#d08a10" stroke-width="0.35"/><path d="M-17.46,-3.47L-10.36,-4.30L-11.22,0.01Z" fill="url(#ray)" stroke="#d08a10" stroke-width="0.35"/><path d="M-21.25,-8.80L-8.79,-7.54L-11.54,-0.88Z" fill="url(#ray)" stroke="#d08a10" stroke-width="0.35"/><path d="M-14.80,-9.89L-7.92,-7.94L-10.37,-4.28Z" fill="url(#ray)" stroke="#d08a10" stroke-width="0.35"/><path d="M-18.95,-18.95L-4.95,-10.61L-10.61,-4.95Z" fill="url(#ray)" stroke="#d08a10" stroke-width="0.35"/><path d="M-9.89,-14.80L-4.28,-10.37L-7.94,-7.92Z" fill="url(#ray)" stroke="#d08a10" stroke-width="0.35"/><path d="M-8.80,-21.25L-0.88,-11.54L-7.54,-8.79Z" fill="url(#ray)" stroke="#d08a10" stroke-width="0.35"/><path d="M-3.47,-17.46L0.01,-11.22L-4.30,-10.36Z" fill="url(#ray)" stroke="#d08a10" stroke-width="0.35"/><circle r="14.9" fill="url(#disc)" stroke="#e08a00" stroke-width="0.5"/></g>
<g transform="translate(950,94.3)"><path d="M-6,14.8 C-9.6,14.8 -11.3,10 -11.3,5 C-11.3,0 -8.5,-3.3 -4.2,-3.3 L-2.6,-3.3 C-1.2,-6 1.8,-7.4 5,-7.4 C9,-7.4 13,-6.6 16,-5.1 C18,-6 20,-6.2 21.8,-6 C25.5,-5.6 27.9,-1.6 27.9,2.7 C27.9,6.5 26.6,9.4 24.6,10.8 C24.1,13.2 23,14.8 20.6,14.8 Z" fill="url(#cloud)" stroke="#8a8a8a" stroke-width="0.8"/></g>
<line x1="63" y1="361.5" x2="1018" y2="361.5" stroke="#a8a8a8" stroke-width="1" stroke-dasharray="1,1"/>
<line x1="63" y1="313.5" x2="1018" y2="313.5" stroke="#a8a8a8" stroke-width="1" stroke-dasharray="1,1"/>
<line x1="63" y1="266.5" x2="1018" y2="266.5" stroke="#a8a8a8" stroke-width="1" stroke-dasharray="1,1"/>
<line x1="63" y1="219.5" x2="1018" y2="219.5" stroke="#a8a8a8" stroke-width="1" stroke-dasharray="1,1"/>
<line x1="63" y1="171.5" x2="1018" y2="171.5" stroke="#a8a8a8" stroke-width="1" stroke-dasharray="1,1"/>
<line x1="200.5" y1="124" x2="200.5" y2="408" stroke="#a8a8a8" stroke-width="1" stroke-dasharray="1,1"/>
<line x1="336.5" y1="124" x2="336.5" y2="408" stroke="#a8a8a8" stroke-width="1" stroke-dasharray="1,1"/>
<line x1="473.5" y1="124" x2="473.5" y2="408" stroke="#a8a8a8" stroke-width="1" stroke-dasharray="1,1"/>
<line x1="609.5" y1="124" x2="609.5" y2="408" stroke="#a8a8a8" stroke-width="1" stroke-dasharray="1,1"/>
<line x1="746.5" y1="124" x2="746.5" y2="408" stroke="#a8a8a8" stroke-width="1" stroke-dasharray="1,1"/>
<line x1="883.5" y1="124" x2="883.5" y2="408" stroke="#a8a8a8" stroke-width="1" stroke-dasharray="1,1"/>
<g stroke="#000" stroke-width="1" shape-rendering="crispEdges">
<line x1="62.5" y1="124" x2="62.5" y2="418"/>
<line x1="1018.5" y1="124" x2="1018.5" y2="409"/>
<line x1="57" y1="408.5" x2="62" y2="408.5"/>
<line x1="57" y1="361.5" x2="62" y2="361.5"/>
<line x1="57" y1="313.5" x2="62" y2="313.5"/>
<line x1="57" y1="266.5" x2="62" y2="266.5"/>
<line x1="57" y1="219.5" x2="62" y2="219.5"/>
<line x1="57" y1="171.5" x2="62" y2="171.5"/>
<line x1="57" y1="124.5" x2="62" y2="124.5"/>
<line x1="1019" y1="408.5" x2="1024" y2="408.5"/>
<line x1="1019" y1="361.5" x2="1024" y2="361.5"/>
<line x1="1019" y1="313.5" x2="1024" y2="313.5"/>
<line x1="1019" y1="266.5" x2="1024" y2="266.5"/>
<line x1="1019" y1="219.5" x2="1024" y2="219.5"/>
<line x1="1019" y1="171.5" x2="1024" y2="171.5"/>
<line x1="1019" y1="124.5" x2="1024" y2="124.5"/>
<line x1="62.5" y1="409" x2="62.5" y2="418"/>
<line x1="96.5" y1="409" x2="96.5" y2="413"/>
<line x1="130.5" y1="409" x2="130.5" y2="413"/>
<line x1="164.5" y1="409" x2="164.5" y2="413"/>
<line x1="199.5" y1="409" x2="199.5" y2="418"/>
<line x1="233.5" y1="409" x2="233.5" y2="413"/>
<line x1="267.5" y1="409" x2="267.5" y2="413"/>
<line x1="301.5" y1="409" x2="301.5" y2="413"/>
<line x1="335.5" y1="409" x2="335.5" y2="418"/>
<line x1="369.5" y1="409" x2="369.5" y2="413"/>
<line x1="404.5" y1="409" x2="404.5" y2="413"/>
<line x1="438.5" y1="409" x2="438.5" y2="413"/>
<line x1="472.5" y1="409" x2="472.5" y2="418"/>
<line x1="506.5" y1="409" x2="506.5" y2="413"/>
<line x1="540.5" y1="409" x2="540.5" y2="413"/>
<line x1="574.5" y1="409" x2="574.5" y2="413"/>
<line x1="608.5" y1="409" x2="608.5" y2="418"/>
<line x1="643.5" y1="409" x2="643.5" y2="413"/>
<line x1="677.5" y1="409" x2="677.5" y2="413"/>
<line x1="711.5" y1="409" x2="711.5" y2="413"/>
<line x1="745.5" y1="409" x2="745.5" y2="418"/>
<line x1="779.5" y1="409" x2="779.5" y2="413"/>
<line x1="813.5" y1="409" x2="813.5" y2="413"/>
<line x1="847.5" y1="409" x2="847.5" y2="413"/>
<line x1="882.5" y1="409" x2="882.5" y2="418"/>
<line x1="916.5" y1="409" x2="916.5" y2="413"/>
<line x1="950.5" y1="409" x2="950.5" y2="413"/>
<line x1="984.5" y1="409" x2="984.5" y2="413"/>
<line x1="1018.5" y1="409" x2="1018.5" y2="418"/>
</g>
<g stroke="#000" stroke-width="1"><line x1="58" y1="396.67" x2="62" y2="396.67"/><line x1="58" y1="384.83" x2="62" y2="384.83"/><line x1="58" y1="373.00" x2="62" y2="373.00"/><line x1="58" y1="349.33" x2="62" y2="349.33"/><line x1="58" y1="337.50" x2="62" y2="337.50"/><line x1="58" y1="325.67" x2="62" y2="325.67"/><line x1="58" y1="302.00" x2="62" y2="302.00"/><line x1="58" y1="290.17" x2="62" y2="290.17"/><line x1="58" y1="278.33" x2="62" y2="278.33"/><line x1="58" y1="254.67" x2="62" y2="254.67"/><line x1="58" y1="242.83" x2="62" y2="242.83"/><line x1="58" y1="231.00" x2="62" y2="231.00"/><line x1="58" y1="207.33" x2="62" y2="207.33"/><line x1="58" y1="195.50" x2="62" y2="195.50"/><line x1="58" y1="183.67" x2="62" y2="183.67"/><line x1="58" y1="160.00" x2="62" y2="160.00"/><line x1="58" y1="148.17" x2="62" y2="148.17"/><line x1="58" y1="136.33" x2="62" y2="136.33"/><line x1="1019" y1="399.03" x2="1023" y2="399.03"/><line x1="1019" y1="389.57" x2="1023" y2="389.57"/><line x1="1019" y1="380.10" x2="1023" y2="380.10"/><line x1="1019" y1="370.63" x2="1023" y2="370.63"/><line x1="1019" y1="351.70" x2="1023" y2="351.70"/><line x1="1019" y1="342.23" x2="1023" y2="342.23"/><line x1="1019" y1="332.77" x2="1023" y2="332.77"/><line x1="1019" y1="323.30" x2="1023" y2="323.30"/><line x1="1019" y1="304.37" x2="1023" y2="304.37"/><line x1="1019" y1="294.90" x2="1023" y2="294.90"/><line x1="1019" y1="285.43" x2="1023" y2="285.43"/><line x1="1019" y1="275.97" x2="1023" y2="275.97"/><line x1="1019" y1="257.03" x2="1023" y2="257.03"/><line x1="1019" y1="247.57" x2="1023" y2="247.57"/><line x1="1019" y1="238.10" x2="1023" y2="238.10"/><line x1="1019" y1="228.63" x2="1023" y2="228.63"/><line x1="1019" y1="209.70" x2="1023" y2="209.70"/><line x1="1019" y1="200.23" x2="1023" y2="200.23"/><line x1="1019" y1="190.77" x2="1023" y2="190.77"/><line x1="1019" y1="181.30" x2="1023" y2="181.30"/><line x1="1019" y1="162.37" x2="1023" y2="162.37"/><line x1="1019" y1="152.90" x2="1023" y2="152.90"/><line x1="1019" y1="143.43" x2="1023" y2="143.43"/><line x1="1019" y1="133.97" x2="1023" y2="133.97"/></g>
<line x1="62" y1="408.5" x2="1019" y2="408.5" stroke="#2a5f8c" stroke-width="1.2" shape-rendering="crispEdges"/>
<g clip-path="url(#plotclip)"><g fill="#000" opacity="0.15" filter="url(#shadow)"><path transform="translate(67.67,322.83) rotate(-22.5)" d="M0,-20.2L10.5,-0.6L5.4,-0.6L5.4,19.8L-5.4,19.8L-5.4,-0.6L-10.5,-0.6Z"/><path transform="translate(76.20,332.30) rotate(-22.5)" d="M0,-20.2L10.5,-0.6L5.4,-0.6L5.4,19.8L-5.4,19.8L-5.4,-0.6L-10.5,-0.6Z"/><path transform="translate(84.74,341.77) rotate(-22.5)" d="M0,-20.2L10.5,-0.6L5.4,-0.6L5.4,19.8L-5.4,19.8L-5.4,-0.6L-10.5,-0.6Z"/><path transform="translate(93.28,351.23) rotate(-22.5)" d="M0,-20.2L10.5,-0.6L5.4,-0.6L5.4,19.8L-5.4,19.8L-5.4,-0.6L-10.5,-0.6Z"/><path transform="translate(101.81,360.70) rotate(-45)" d="M0,-20.2L10.5,-0.6L5.4,-0.6L5.4,19.8L-5.4,19.8L-5.4,-0.6L-10.5,-0.6Z"/><path transform="translate(110.35,360.70) rotate(-45)" d="M0,-20.2L10.5,-0.6L5.4,-0.6L5.4,19.8L-5.4,19.8L-5.4,-0.6L-10.5,-0.6Z"/><path transform="translate(118.88,360.70) rotate(-90)" d="M0,-20.2L10.5,-0.6L5.4,-0.6L5.4,19.8L-5.4,19.8L-5.4,-0.6L-10.5,-0.6Z"/><path transform="translate(127.42,370.17) rotate(22.5)" d="M0,-20.2L10.5,-0.6L5.4,-0.6L5.4,19.8L-5.4,19.8L-5.4,-0.6L-10.5,-0.6Z"/><path transform="translate(135.95,360.70) rotate(180)" d="M0,-20.2L10.5,-0.6L5.4,-0.6L5.4,19.8L-5.4,19.8L-5.4,-0.6L-10.5,-0.6Z"/><path transform="translate(144.49,370.17) rotate(180)" d="M0,-20.2L10.5,-0.6L5.4,-0.6L5.4,19.8L-5.4,19.8L-5.4,-0.6L-10.5,-0.6Z"/><path transform="translate(153.03,370.17) rotate(-135)" d="M0,-20.2L10.5,-0.6L5.4,-0.6L5.4,19.8L-5.4,19.8L-5.4,-0.6L-10.5,-0.6Z"/><path transform="translate(161.56,370.17) rotate(-67.5)" d="M0,-20.2L10.5,-0.6L5.4,-0.6L5.4,19.8L-5.4,19.8L-5.4,-0.6L-10.5,-0.6Z"/><path transform="translate(170.10,360.70) rotate(-67.5)" d="M0,-20.2L10.5,-0.6L5.4,-0.6L5.4,19.8L-5.4,19.8L-5.4,-0.6L-10.5,-0.6Z"/><path transform="translate(178.63,351.23) rotate(-45)" d="M0,-20.2L10.5,-0.6L5.4,-0.6L5.4,19.8L-5.4,19.8L-5.4,-0.6L-10.5,-0.6Z"/><path transform="translate(187.17,360.70) rotate(-45)" d="M0,-20.2L10.5,-0.6L5.4,-0.6L5.4,19.8L-5.4,19.8L-5.4,-0.6L-10.5,-0.6Z"/><path transform="translate(195.70,370.17) rotate(-22.5)" d="M0,-20.2L10.5,-0.6L5.4,-0.6L5.4,19.8L-5.4,19.8L-5.4,-0.6L-10.5,-0.6Z"/><path transform="translate(204.24,370.17) rotate(-90)" d="M0,-20.2L10.5,-0.6L5.4,-0.6L5.4,19.8L-5.4,19.8L-5.4,-0.6L-10.5,-0.6Z"/><path transform="translate(212.78,360.70) rotate(22.5)" d="M0,-20.2L10.5,-0.6L5.4,-0.6L5.4,19.8L-5.4,19.8L-5.4,-0.6L-10.5,-0.6Z"/><path transform="translate(221.31,351.23) rotate(0)" d="M0,-20.2L10.5,-0.6L5.4,-0.6L5.4,19.8L-5.4,19.8L-5.4,-0.6L-10.5,-0.6Z"/><path transform="translate(229.85,351.23) rotate(180)" d="M0,-20.2L10.5,-0.6L5.4,-0.6L5.4,19.8L-5.4,19.8L-5.4,-0.6L-10.5,-0.6Z"/><path transform="translate(238.38,341.77) rotate(180)" d="M0,-20.2L10.5,-0.6L5.4,-0.6L5.4,19.8L-5.4,19.8L-5.4,-0.6L-10.5,-0.6Z"/><path transform="translate(246.92,341.77) rotate(180)" d="M0,-20.2L10.5,-0.6L5.4,-0.6L5.4,19.8L-5.4,19.8L-5.4,-0.6L-10.5,-0.6Z"/><path transform="translate(255.45,332.30) rotate(180)" d="M0,-20.2L10.5,-0.6L5.4,-0.6L5.4,19.8L-5.4,19.8L-5.4,-0.6L-10.5,-0.6Z"/><path transform="translate(263.99,322.83) rotate(157.5)" d="M0,-20.2L10.5,-0.6L5.4,-0.6L5.4,19.8L-5.4,19.8L-5.4,-0.6L-10.5,-0.6Z"/><path transform="translate(272.53,322.83) rotate(157.5)" d="M0,-20.2L10.5,-0.6L5.4,-0.6L5.4,19.8L-5.4,19.8L-5.4,-0.6L-10.5,-0.6Z"/><path transform="translate(281.06,322.83) rotate(135)" d="M0,-20.2L10.5,-0.6L5.4,-0.6L5.4,19.8L-5.4,19.8L-5.4,-0.6L-10.5,-0.6Z"/><path transform="translate(289.60,332.30) rotate(135)" d="M0,-20.2L10.5,-0.6L5.4,-0.6L5.4,19.8L-5.4,19.8L-5.4,-0.6L-10.5,-0.6Z"/><path transform="translate(298.13,332.30) rotate(135)" d="M0,-20.2L10.5,-0.6L5.4,-0.6L5.4,19.8L-5.4,19.8L-5.4,-0.6L-10.5,-0.6Z"/><path transform="translate(306.67,341.77) rotate(157.5)" d="M0,-20.2L10.5,-0.6L5.4,-0.6L5.4,19.8L-5.4,19.8L-5.4,-0.6L-10.5,-0.6Z"/><path transform="translate(315.20,360.70) rotate(180)" d="M0,-20.2L10.5,-0.6L5.4,-0.6L5.4,19.8L-5.4,19.8L-5.4,-0.6L-10.5,-0.6Z"/><path transform="translate(323.74,360.70) rotate(135)" d="M0,-20.2L10.5,-0.6L5.4,-0.6L5.4,19.8L-5.4,19.8L-5.4,-0.6L-10.5,-0.6Z"/><path transform="translate(332.27,360.70) rotate(157.5)" d="M0,-20.2L10.5,-0.6L5.4,-0.6L5.4,19.8L-5.4,19.8L-5.4,-0.6L-10.5,-0.6Z"/><path transform="translate(340.81,360.70) rotate(135)" d="M0,-20.2L10.5,-0.6L5.4,-0.6L5.4,19.8L-5.4,19.8L-5.4,-0.6L-10.5,-0.6Z"/><path transform="translate(349.35,351.23) rotate(180)" d="M0,-20.2L10.5,-0.6L5.4,-0.6L5.4,19.8L-5.4,19.8L-5.4,-0.6L-10.5,-0.6Z"/><path transform="translate(357.88,360.70) rotate(202.5)" d="M0,-20.2L10.5,-0.6L5.4,-0.6L5.4,19.8L-5.4,19.8L-5.4,-0.6L-10.5,-0.6Z"/><path transform="translate(366.42,360.70) rotate(202.5)" d="M0,-20.2L10.5,-0.6L5.4,-0.6L5.4,19.8L-5.4,19.8L-5.4,-0.6L-10.5,-0.6Z"/><path transform="translate(374.95,360.70) rotate(-90)" d="M0,-20.2L10.5,-0.6L5.4,-0.6L5.4,19.8L-5.4,19.8L-5.4,-0.6L-10.5,-0.6Z"/><path transform="translate(383.49,360.70) rotate(-22.5)" d="M0,-20.2L10.5,-0.6L5.4,-0.6L5.4,19.8L-5.4,19.8L-5.4,-0.6L-10.5,-0.6Z"/><path transform="translate(392.03,351.23) rotate(-22.5)" d="M0,-20.2L10.5,-0.6L5.4,-0.6L5.4,19.8L-5.4,19.8L-5.4,-0.6L-10.5,-0.6Z"/><path transform="translate(400.56,341.77) rotate(-22.5)" d="M0,-20.2L10.5,-0.6L5.4,-0.6L5.4,19.8L-5.4,19.8L-5.4,-0.6L-10.5,-0.6Z"/><path transform="translate(409.10,341.77) rotate(-22.5)" d="M0,-20.2L10.5,-0.6L5.4,-0.6L5.4,19.8L-5.4,19.8L-5.4,-0.6L-10.5,-0.6Z"/><path transform="translate(417.63,341.77) rotate(0)" d="M0,-20.2L10.5,-0.6L5.4,-0.6L5.4,19.8L-5.4,19.8L-5.4,-0.6L-10.5,-0.6Z"/><path transform="translate(426.17,332.30) rotate(-22.5)" d="M0,-20.2L10.5,-0.6L5.4,-0.6L5.4,19.8L-5.4,19.8L-5.4,-0.6L-10.5,-0.6Z"/><path transform="translate(434.70,332.30) rotate(-22.5)" d="M0,-20.2L10.5,-0.6L5.4,-0.6L5.4,19.8L-5.4,19.8L-5.4,-0.6L-10.5,-0.6Z"/><path transform="translate(443.24,332.30) rotate(-22.5)" d="M0,-20.2L10.5,-0.6L5.4,-0.6L5.4,19.8L-5.4,19.8L-5.4,-0.6L-10.5,-0.6Z"/><path transform="translate(451.78,332.30) rotate(-22.5)" d="M0,-20.2L10.5,-0.6L5.4,-0.6L5.4,19.8L-5.4,19.8L-5.4,-0.6L-10.5,-0.6Z"/><path transform="translate(460.31,341.77) rotate(-22.5)" d="M0,-20.2L10.5,-0.6L5.4,-0.6L5.4,19.8L-5.4,19.8L-5.4,-0.6L-10.5,-0.6Z"/><path transform="translate(468.85,341.77) rotate(-22.5)" d="M0,-20.2L10.5,-0.6L5.4,-0.6L5.4,19.8L-5.4,19.8L-5.4,-0.6L-10.5,-0.6Z"/><path transform="translate(477.38,341.77) rotate(-22.5)" d="M0,-20.2L10.5,-0.6L5.4,-0.6L5.4,19.8L-5.4,19.8L-5.4,-0.6L-10.5,-0.6Z"/><path transform="translate(485.92,351.23) rotate(-22.5)" d="M0,-20.2L10.5,-0.6L5.4,-0.6L5.4,19.8L-5.4,19.8L-5.4,-0.6L-10.5,-0.6Z"/><path transform="translate(494.45,351.23) rotate(-22.5)" d="M0,-20.2L10.5,-0.6L5.4,-0.6L5.4,19.8L-5.4,19.8L-5.4,-0.6L-10.5,-0.6Z"/><path transform="translate(502.99,360.70) rotate(-22.5)" d="M0,-20.2L10.5,-0.6L5.4,-0.6L5.4,19.8L-5.4,19.8L-5.4,-0.6L-10.5,-0.6Z"/><path transform="translate(511.53,370.17) rotate(-22.5)" d="M0,-20.2L10.5,-0.6L5.4,-0.6L5.4,19.8L-5.4,19.8L-5.4,-0.6L-10.5,-0.6Z"/><path transform="translate(520.06,370.17) rotate(-22.5)" d="M0,-20.2L10.5,-0.6L5.4,-0.6L5.4,19.8L-5.4,19.8L-5.4,-0.6L-10.5,-0.6Z"/><path transform="translate(528.60,370.17) rotate(0)" d="M0,-20.2L10.5,-0.6L5.4,-0.6L5.4,19.8L-5.4,19.8L-5.4,-0.6L-10.5,-0.6Z"/><path transform="translate(537.13,370.17) rotate(22.5)" d="M0,-20.2L10.5,-0.6L5.4,-0.6L5.4,19.8L-5.4,19.8L-5.4,-0.6L-10.5,-0.6Z"/><path transform="translate(545.67,360.70) rotate(22.5)" d="M0,-20.2L10.5,-0.6L5.4,-0.6L5.4,19.8L-5.4,19.8L-5.4,-0.6L-10.5,-0.6Z"/><path transform="translate(554.20,360.70) rotate(22.5)" d="M0,-20.2L10.5,-0.6L5.4,-0.6L5.4,19.8L-5.4,19.8L-5.4,-0.6L-10.5,-0.6Z"/><path transform="translate(562.74,351.23) rotate(0)" d="M0,-20.2L10.5,-0.6L5.4,-0.6L5.4,19.8L-5.4,19.8L-5.4,-0.6L-10.5,-0.6Z"/><path transform="translate(571.28,351.23) rotate(0)" d="M0,-20.2L10.5,-0.6L5.4,-0.6L5.4,19.8L-5.4,19.8L-5.4,-0.6L-10.5,-0.6Z"/><path transform="translate(579.81,351.23) rotate(0)" d="M0,-20.2L10.5,-0.6L5.4,-0.6L5.4,19.8L-5.4,19.8L-5.4,-0.6L-10.5,-0.6Z"/><path transform="translate(588.35,351.23) rotate(-22.5)" d="M0,-20.2L10.5,-0.6L5.4,-0.6L5.4,19.8L-5.4,19.8L-5.4,-0.6L-10.5,-0.6Z"/><path transform="translate(596.88,360.70) rotate(-22.5)" d="M0,-20.2L10.5,-0.6L5.4,-0.6L5.4,19.8L-5.4,19.8L-5.4,-0.6L-10.5,-0.6Z"/><path transform="translate(605.42,360.70) rotate(-22.5)" d="M0,-20.2L10.5,-0.6L5.4,-0.6L5.4,19.8L-5.4,19.8L-5.4,-0.6L-10.5,-0.6Z"/><path transform="translate(613.95,370.17) rotate(-22.5)" d="M0,-20.2L10.5,-0.6L5.4,-0.6L5.4,19.8L-5.4,19.8L-5.4,-0.6L-10.5,-0.6Z"/><path transform="translate(622.49,370.17) rotate(-67.5)" d="M0,-20.2L10.5,-0.6L5.4,-0.6L5.4,19.8L-5.4,19.8L-5.4,-0.6L-10.5,-0.6Z"/><path transform="translate(631.02,370.17) rotate(-67.5)" d="M0,-20.2L10.5,-0.6L5.4,-0.6L5.4,19.8L-5.4,19.8L-5.4,-0.6L-10.5,-0.6Z"/><path transform="translate(639.56,370.17) rotate(202.5)" d="M0,-20.2L10.5,-0.6L5.4,-0.6L5.4,19.8L-5.4,19.8L-5.4,-0.6L-10.5,-0.6Z"/><path transform="translate(648.10,370.17) rotate(202.5)" d="M0,-20.2L10.5,-0.6L5.4,-0.6L5.4,19.8L-5.4,19.8L-5.4,-0.6L-10.5,-0.6Z"/><path transform="translate(656.63,360.70) rotate(180)" d="M0,-20.2L10.5,-0.6L5.4,-0.6L5.4,19.8L-5.4,19.8L-5.4,-0.6L-10.5,-0.6Z"/><path transform="translate(665.17,341.77) rotate(180)" d="M0,-20.2L10.5,-0.6L5.4,-0.6L5.4,19.8L-5.4,19.8L-5.4,-0.6L-10.5,-0.6Z"/><path transform="translate(673.70,332.30) rotate(180)" d="M0,-20.2L10.5,-0.6L5.4,-0.6L5.4,19.8L-5.4,19.8L-5.4,-0.6L-10.5,-0.6Z"/><path transform="translate(682.24,322.83) rotate(157.5)" d="M0,-20.2L10.5,-0.6L5.4,-0.6L5.4,19.8L-5.4,19.8L-5.4,-0.6L-10.5,-0.6Z"/><path transform="translate(690.77,322.83) rotate(157.5)" d="M0,-20.2L10.5,-0.6L5.4,-0.6L5.4,19.8L-5.4,19.8L-5.4,-0.6L-10.5,-0.6Z"/><path transform="translate(699.31,322.83) rotate(135)" d="M0,-20.2L10.5,-0.6L5.4,-0.6L5.4,19.8L-5.4,19.8L-5.4,-0.6L-10.5,-0.6Z"/><path transform="translate(707.85,332.30) rotate(112.5)" d="M0,-20.2L10.5,-0.6L5.4,-0.6L5.4,19.8L-5.4,19.8L-5.4,-0.6L-10.5,-0.6Z"/><path transform="translate(716.38,332.30) rotate(67.5)" d="M0,-20.2L10.5,-0.6L5.4,-0.6L5.4,19.8L-5.4,19.8L-5.4,-0.6L-10.5,-0.6Z"/><path transform="translate(724.92,341.77) rotate(0)" d="M0,-20.2L10.5,-0.6L5.4,-0.6L5.4,19.8L-5.4,19.8L-5.4,-0.6L-10.5,-0.6Z"/><path transform="translate(733.45,341.77) rotate(0)" d="M0,-20.2L10.5,-0.6L5.4,-0.6L5.4,19.8L-5.4,19.8L-5.4,-0.6L-10.5,-0.6Z"/><path transform="translate(741.99,341.77) rotate(0)" d="M0,-20.2L10.5,-0.6L5.4,-0.6L5.4,19.8L-5.4,19.8L-5.4,-0.6L-10.5,-0.6Z"/><path transform="translate(750.53,341.77) rotate(0)" d="M0,-20.2L10.5,-0.6L5.4,-0.6L5.4,19.8L-5.4,19.8L-5.4,-0.6L-10.5,-0.6Z"/><path transform="translate(759.06,341.77) rotate(0)" d="M0,-20.2L10.5,-0.6L5.4,-0.6L5.4,19.8L-5.4,19.8L-5.4,-0.6L-10.5,-0.6Z"/><path transform="translate(767.60,341.77) rotate(0)" d="M0,-20.2L10.5,-0.6L5.4,-0.6L5.4,19.8L-5.4,19.8L-5.4,-0.6L-10.5,-0.6Z"/><path transform="translate(776.13,341.77) rotate(-22.5)" d="M0,-20.2L10.5,-0.6L5.4,-0.6L5.4,19.8L-5.4,19.8L-5.4,-0.6L-10.5,-0.6Z"/><path transform="translate(784.67,341.77) rotate(-22.5)" d="M0,-20.2L10.5,-0.6L5.4,-0.6L5.4,19.8L-5.4,19.8L-5.4,-0.6L-10.5,-0.6Z"/><path transform="translate(793.20,341.77) rotate(-22.5)" d="M0,-20.2L10.5,-0.6L5.4,-0.6L5.4,19.8L-5.4,19.8L-5.4,-0.6L-10.5,-0.6Z"/><path transform="translate(801.74,332.30) rotate(-22.5)" d="M0,-20.2L10.5,-0.6L5.4,-0.6L5.4,19.8L-5.4,19.8L-5.4,-0.6L-10.5,-0.6Z"/><path transform="translate(810.28,332.30) rotate(-22.5)" d="M0,-20.2L10.5,-0.6L5.4,-0.6L5.4,19.8L-5.4,19.8L-5.4,-0.6L-10.5,-0.6Z"/><path transform="translate(818.81,322.83) rotate(-22.5)" d="M0,-20.2L10.5,-0.6L5.4,-0.6L5.4,19.8L-5.4,19.8L-5.4,-0.6L-10.5,-0.6Z"/><path transform="translate(827.35,313.37) rotate(-22.5)" d="M0,-20.2L10.5,-0.6L5.4,-0.6L5.4,19.8L-5.4,19.8L-5.4,-0.6L-10.5,-0.6Z"/><path transform="translate(835.88,313.37) rotate(-22.5)" d="M0,-20.2L10.5,-0.6L5.4,-0.6L5.4,19.8L-5.4,19.8L-5.4,-0.6L-10.5,-0.6Z"/><path transform="translate(844.42,303.90) rotate(-22.5)" d="M0,-20.2L10.5,-0.6L5.4,-0.6L5.4,19.8L-5.4,19.8L-5.4,-0.6L-10.5,-0.6Z"/><path transform="translate(852.95,303.90) rotate(-22.5)" d="M0,-20.2L10.5,-0.6L5.4,-0.6L5.4,19.8L-5.4,19.8L-5.4,-0.6L-10.5,-0.6Z"/><path transform="translate(861.49,303.90) rotate(-22.5)" d="M0,-20.2L10.5,-0.6L5.4,-0.6L5.4,19.8L-5.4,19.8L-5.4,-0.6L-10.5,-0.6Z"/><path transform="translate(870.03,303.90) rotate(-22.5)" d="M0,-20.2L10.5,-0.6L5.4,-0.6L5.4,19.8L-5.4,19.8L-5.4,-0.6L-10.5,-0.6Z"/><path transform="translate(878.56,303.90) rotate(-22.5)" d="M0,-20.2L10.5,-0.6L5.4,-0.6L5.4,19.8L-5.4,19.8L-5.4,-0.6L-10.5,-0.6Z"/><path transform="translate(887.10,313.37) rotate(-22.5)" d="M0,-20.2L10.5,-0.6L5.4,-0.6L5.4,19.8L-5.4,19.8L-5.4,-0.6L-10.5,-0.6Z"/><path transform="translate(895.63,313.37) rotate(-22.5)" d="M0,-20.2L10.5,-0.6L5.4,-0.6L5.4,19.8L-5.4,19.8L-5.4,-0.6L-10.5,-0.6Z"/><path transform="translate(904.17,313.37) rotate(-22.5)" d="M0,-20.2L10.5,-0.6L5.4,-0.6L5.4,19.8L-5.4,19.8L-5.4,-0.6L-10.5,-0.6Z"/><path transform="translate(912.70,313.37) rotate(-22.5)" d="M0,-20.2L10.5,-0.6L5.4,-0.6L5.4,19.8L-5.4,19.8L-5.4,-0.6L-10.5,-0.6Z"/><path transform="translate(921.24,322.83) rotate(-22.5)" d="M0,-20.2L10.5,-0.6L5.4,-0.6L5.4,19.8L-5.4,19.8L-5.4,-0.6L-10.5,-0.6Z"/><path transform="translate(929.78,322.83) rotate(-22.5)" d="M0,-20.2L10.5,-0.6L5.4,-0.6L5.4,19.8L-5.4,19.8L-5.4,-0.6L-10.5,-0.6Z"/><path transform="translate(938.31,322.83) rotate(-22.5)" d="M0,-20.2L10.5,-0.6L5.4,-0.6L5.4,19.8L-5.4,19.8L-5.4,-0.6L-10.5,-0.6Z"/><path transform="translate(946.85,322.83) rotate(-22.5)" d="M0,-20.2L10.5,-0.6L5.4,-0.6L5.4,19.8L-5.4,19.8L-5.4,-0.6L-10.5,-0.6Z"/><path transform="translate(955.38,322.83) rotate(-22.5)" d="M0,-20.2L10.5,-0.6L5.4,-0.6L5.4,19.8L-5.4,19.8L-5.4,-0.6L-10.5,-0.6Z"/><path transform="translate(963.92,322.83) rotate(-22.5)" d="M0,-20.2L10.5,-0.6L5.4,-0.6L5.4,19.8L-5.4,19.8L-5.4,-0.6L-10.5,-0.6Z"/><path transform="translate(972.45,322.83) rotate(-22.5)" d="M0,-20.2L10.5,-0.6L5.4,-0.6L5.4,19.8L-5.4,19.8L-5.4,-0.6L-10.5,-0.6Z"/><path transform="translate(980.99,322.83) rotate(-22.5)" d="M0,-20.2L10.5,-0.6L5.4,-0.6L5.4,19.8L-5.4,19.8L-5.4,-0.6L-10.5,-0.6Z"/><path transform="translate(989.53,322.83) rotate(-22.5)" d="M0,-20.2L10.5,-0.6L5.4,-0.6L5.4,19.8L-5.4,19.8L-5.4,-0.6L-10.5,-0.6Z"/><path transform="translate(998.06,322.83) rotate(-22.5)" d="M0,-20.2L10.5,-0.6L5.4,-0.6L5.4,19.8L-5.4,19.8L-5.4,-0.6L-10.5,-0.6Z"/><path transform="translate(1006.60,332.30) rotate(-22.5)" d="M0,-20.2L10.5,-0.6L5.4,-0.6L5.4,19.8L-5.4,19.8L-5.4,-0.6L-10.5,-0.6Z"/><path transform="translate(1015.13,332.30) rotate(-22.5)" d="M0,-20.2L10.5,-0.6L5.4,-0.6L5.4,19.8L-5.4,19.8L-5.4,-0.6L-10.5,-0.6Z"/></g></g>
<g stroke="#200000" stroke-width="1" stroke-linejoin="miter" shape-rendering="crispEdges"><path transform="translate(66.67,313.83) rotate(-22.5)" d="M0,-20.2L10.5,-0.6L5.4,-0.6L5.4,19.8L-5.4,19.8L-5.4,-0.6L-10.5,-0.6Z" fill="#ff0000"/><path transform="translate(75.20,323.30) rotate(-22.5)" d="M0,-20.2L10.5,-0.6L5.4,-0.6L5.4,19.8L-5.4,19.8L-5.4,-0.6L-10.5,-0.6Z" fill="#ff0000"/><path transform="translate(83.74,332.77) rotate(-22.5)" d="M0,-20.2L10.5,-0.6L5.4,-0.6L5.4,19.8L-5.4,19.8L-5.4,-0.6L-10.5,-0.6Z" fill="#ff0000"/><path transform="translate(92.28,342.23) rotate(-22.5)" d="M0,-20.2L10.5,-0.6L5.4,-0.6L5.4,19.8L-5.4,19.8L-5.4,-0.6L-10.5,-0.6Z" fill="#ff0000"/><path transform="translate(100.81,351.70) rotate(-45)" d="M0,-20.2L10.5,-0.6L5.4,-0.6L5.4,19.8L-5.4,19.8L-5.4,-0.6L-10.5,-0.6Z" fill="#ff0000"/><path transform="translate(109.35,351.70) rotate(-45)" d="M0,-20.2L10.5,-0.6L5.4,-0.6L5.4,19.8L-5.4,19.8L-5.4,-0.6L-10.5,-0.6Z" fill="#ff0000"/><path transform="translate(117.88,351.70) rotate(-90)" d="M0,-20.2L10.5,-0.6L5.4,-0.6L5.4,19.8L-5.4,19.8L-5.4,-0.6L-10.5,-0.6Z" fill="#ff0000"/><path transform="translate(126.42,361.17) rotate(22.5)" d="M0,-20.2L10.5,-0.6L5.4,-0.6L5.4,19.8L-5.4,19.8L-5.4,-0.6L-10.5,-0.6Z" fill="#ff0000"/><path transform="translate(134.95,351.70) rotate(180)" d="M0,-20.2L10.5,-0.6L5.4,-0.6L5.4,19.8L-5.4,19.8L-5.4,-0.6L-10.5,-0.6Z" fill="#ff0000"/><path transform="translate(143.49,361.17) rotate(180)" d="M0,-20.2L10.5,-0.6L5.4,-0.6L5.4,19.8L-5.4,19.8L-5.4,-0.6L-10.5,-0.6Z" fill="#ff0000"/><path transform="translate(152.03,361.17) rotate(-135)" d="M0,-20.2L10.5,-0.6L5.4,-0.6L5.4,19.8L-5.4,19.8L-5.4,-0.6L-10.5,-0.6Z" fill="#ff0000"/><path transform="translate(160.56,361.17) rotate(-67.5)" d="M0,-20.2L10.5,-0.6L5.4,-0.6L5.4,19.8L-5.4,19.8L-5.4,-0.6L-10.5,-0.6Z" fill="#ff0000"/><path transform="translate(169.10,351.70) rotate(-67.5)" d="M0,-20.2L10.5,-0.6L5.4,-0.6L5.4,19.8L-5.4,19.8L-5.4,-0.6L-10.5,-0.6Z" fill="#ff0000"/><path transform="translate(177.63,342.23) rotate(-45)" d="M0,-20.2L10.5,-0.6L5.4,-0.6L5.4,19.8L-5.4,19.8L-5.4,-0.6L-10.5,-0.6Z" fill="#ff0000"/><path transform="translate(186.17,351.70) rotate(-45)" d="M0,-20.2L10.5,-0.6L5.4,-0.6L5.4,19.8L-5.4,19.8L-5.4,-0.6L-10.5,-0.6Z" fill="#ff0000"/><path transform="translate(194.70,361.17) rotate(-22.5)" d="M0,-20.2L10.5,-0.6L5.4,-0.6L5.4,19.8L-5.4,19.8L-5.4,-0.6L-10.5,-0.6Z" fill="#ff0000"/><path transform="translate(203.24,361.17) rotate(-90)" d="M0,-20.2L10.5,-0.6L5.4,-0.6L5.4,19.8L-5.4,19.8L-5.4,-0.6L-10.5,-0.6Z" fill="#ff0000"/><path transform="translate(211.78,351.70) rotate(22.5)" d="M0,-20.2L10.5,-0.6L5.4,-0.6L5.4,19.8L-5.4,19.8L-5.4,-0.6L-10.5,-0.6Z" fill="#ff0000"/><path transform="translate(220.31,342.23) rotate(0)" d="M0,-20.2L10.5,-0.6L5.4,-0.6L5.4,19.8L-5.4,19.8L-5.4,-0.6L-10.5,-0.6Z" fill="#ff0000"/><path transform="translate(228.85,342.23) rotate(180)" d="M0,-20.2L10.5,-0.6L5.4,-0.6L5.4,19.8L-5.4,19.8L-5.4,-0.6L-10.5,-0.6Z" fill="#ff0000"/><path transform="translate(237.38,332.77) rotate(180)" d="M0,-20.2L10.5,-0.6L5.4,-0.6L5.4,19.8L-5.4,19.8L-5.4,-0.6L-10.5,-0.6Z" fill="#ff0000"/><path transform="translate(245.92,332.77) rotate(180)" d="M0,-20.2L10.5,-0.6L5.4,-0.6L5.4,19.8L-5.4,19.8L-5.4,-0.6L-10.5,-0.6Z" fill="#ff0000"/><path transform="translate(254.45,323.30) rotate(180)" d="M0,-20.2L10.5,-0.6L5.4,-0.6L5.4,19.8L-5.4,19.8L-5.4,-0.6L-10.5,-0.6Z" fill="#ff0000"/><path transform="translate(262.99,313.83) rotate(157.5)" d="M0,-20.2L10.5,-0.6L5.4,-0.6L5.4,19.8L-5.4,19.8L-5.4,-0.6L-10.5,-0.6Z" fill="#ff0000"/><path transform="translate(271.53,313.83) rotate(157.5)" d="M0,-20.2L10.5,-0.6L5.4,-0.6L5.4,19.8L-5.4,19.8L-5.4,-0.6L-10.5,-0.6Z" fill="#ff0000"/><path transform="translate(280.06,313.83) rotate(135)" d="M0,-20.2L10.5,-0.6L5.4,-0.6L5.4,19.8L-5.4,19.8L-5.4,-0.6L-10.5,-0.6Z" fill="#ff0000"/><path transform="translate(288.60,323.30) rotate(135)" d="M0,-20.2L10.5,-0.6L5.4,-0.6L5.4,19.8L-5.4,19.8L-5.4,-0.6L-10.5,-0.6Z" fill="#ff0000"/><path transform="translate(297.13,323.30) rotate(135)" d="M0,-20.2L10.5,-0.6L5.4,-0.6L5.4,19.8L-5.4,19.8L-5.4,-0.6L-10.5,-0.6Z" fill="#ff0000"/><path transform="translate(305.67,332.77) rotate(157.5)" d="M0,-20.2L10.5,-0.6L5.4,-0.6L5.4,19.8L-5.4,19.8L-5.4,-0.6L-10.5,-0.6Z" fill="#ff0000"/><path transform="translate(314.20,351.70) rotate(180)" d="M0,-20.2L10.5,-0.6L5.4,-0.6L5.4,19.8L-5.4,19.8L-5.4,-0.6L-10.5,-0.6Z" fill="#ff0000"/><path transform="translate(322.74,351.70) rotate(135)" d="M0,-20.2L10.5,-0.6L5.4,-0.6L5.4,19.8L-5.4,19.8L-5.4,-0.6L-10.5,-0.6Z" fill="#ff0000"/><path transform="translate(331.27,351.70) rotate(157.5)" d="M0,-20.2L10.5,-0.6L5.4,-0.6L5.4,19.8L-5.4,19.8L-5.4,-0.6L-10.5,-0.6Z" fill="#ff0000"/><path transform="translate(339.81,351.70) rotate(135)" d="M0,-20.2L10.5,-0.6L5.4,-0.6L5.4,19.8L-5.4,19.8L-5.4,-0.6L-10.5,-0.6Z" fill="#ff0000"/><path transform="translate(348.35,342.23) rotate(180)" d="M0,-20.2L10.5,-0.6L5.4,-0.6L5.4,19.8L-5.4,19.8L-5.4,-0.6L-10.5,-0.6Z" fill="#ff0000"/><path transform="translate(356.88,351.70) rotate(202.5)" d="M0,-20.2L10.5,-0.6L5.4,-0.6L5.4,19.8L-5.4,19.8L-5.4,-0.6L-10.5,-0.6Z" fill="#ff0000"/><path transform="translate(365.42,351.70) rotate(202.5)" d="M0,-20.2L10.5,-0.6L5.4,-0.6L5.4,19.8L-5.4,19.8L-5.4,-0.6L-10.5,-0.6Z" fill="#ff0000"/><path transform="translate(373.95,351.70) rotate(-90)" d="M0,-20.2L10.5,-0.6L5.4,-0.6L5.4,19.8L-5.4,19.8L-5.4,-0.6L-10.5,-0.6Z" fill="#ff0000"/><path transform="translate(382.49,351.70) rotate(-22.5)" d="M0,-20.2L10.5,-0.6L5.4,-0.6L5.4,19.8L-5.4,19.8L-5.4,-0.6L-10.5,-0.6Z" fill="#ff0000"/><path transform="translate(391.03,342.23) rotate(-22.5)" d="M0,-20.2L10.5,-0.6L5.4,-0.6L5.4,19.8L-5.4,19.8L-5.4,-0.6L-10.5,-0.6Z" fill="#ff0000"/><path transform="translate(399.56,332.77) rotate(-22.5)" d="M0,-20.2L10.5,-0.6L5.4,-0.6L5.4,19.8L-5.4,19.8L-5.4,-0.6L-10.5,-0.6Z" fill="#ff0000"/><path transform="translate(408.10,332.77) rotate(-22.5)" d="M0,-20.2L10.5,-0.6L5.4,-0.6L5.4,19.8L-5.4,19.8L-5.4,-0.6L-10.5,-0.6Z" fill="#ff0000"/><path transform="translate(416.63,332.77) rotate(0)" d="M0,-20.2L10.5,-0.6L5.4,-0.6L5.4,19.8L-5.4,19.8L-5.4,-0.6L-10.5,-0.6Z" fill="#ff0000"/><path transform="translate(425.17,323.30) rotate(-22.5)" d="M0,-20.2L10.5,-0.6L5.4,-0.6L5.4,19.8L-5.4,19.8L-5.4,-0.6L-10.5,-0.6Z" fill="#ff0000"/><path transform="translate(433.70,323.30) rotate(-22.5)" d="M0,-20.2L10.5,-0.6L5.4,-0.6L5.4,19.8L-5.4,19.8L-5.4,-0.6L-10.5,-0.6Z" fill="#ff0000"/><path transform="translate(442.24,323.30) rotate(-22.5)" d="M0,-20.2L10.5,-0.6L5.4,-0.6L5.4,19.8L-5.4,19.8L-5.4,-0.6L-10.5,-0.6Z" fill="#ff0000"/><path transform="translate(450.78,323.30) rotate(-22.5)" d="M0,-20.2L10.5,-0.6L5.4,-0.6L5.4,19.8L-5.4,19.8L-5.4,-0.6L-10.5,-0.6Z" fill="#ff0000"/><path transform="translate(459.31,332.77) rotate(-22.5)" d="M0,-20.2L10.5,-0.6L5.4,-0.6L5.4,19.8L-5.4,19.8L-5.4,-0.6L-10.5,-0.6Z" fill="#ff0000"/><path transform="translate(467.85,332.77) rotate(-22.5)" d="M0,-20.2L10.5,-0.6L5.4,-0.6L5.4,19.8L-5.4,19.8L-5.4,-0.6L-10.5,-0.6Z" fill="#ff0000"/><path transform="translate(476.38,332.77) rotate(-22.5)" d="M0,-20.2L10.5,-0.6L5.4,-0.6L5.4,19.8L-5.4,19.8L-5.4,-0.6L-10.5,-0.6Z" fill="#ff0000"/><path transform="translate(484.92,342.23) rotate(-22.5)" d="M0,-20.2L10.5,-0.6L5.4,-0.6L5.4,19.8L-5.4,19.8L-5.4,-0.6L-10.5,-0.6Z" fill="#ff0000"/><path transform="translate(493.45,342.23) rotate(-22.5)" d="M0,-20.2L10.5,-0.6L5.4,-0.6L5.4,19.8L-5.4,19.8L-5.4,-0.6L-10.5,-0.6Z" fill="#ff0000"/><path transform="translate(501.99,351.70) rotate(-22.5)" d="M0,-20.2L10.5,-0.6L5.4,-0.6L5.4,19.8L-5.4,19.8L-5.4,-0.6L-10.5,-0.6Z" fill="#ff0000"/><path transform="translate(510.53,361.17) rotate(-22.5)" d="M0,-20.2L10.5,-0.6L5.4,-0.6L5.4,19.8L-5.4,19.8L-5.4,-0.6L-10.5,-0.6Z" fill="#ff0000"/><path transform="translate(519.06,361.17) rotate(-22.5)" d="M0,-20.2L10.5,-0.6L5.4,-0.6L5.4,19.8L-5.4,19.8L-5.4,-0.6L-10.5,-0.6Z" fill="#ff0000"/><path transform="translate(527.60,361.17) rotate(0)" d="M0,-20.2L10.5,-0.6L5.4,-0.6L5.4,19.8L-5.4,19.8L-5.4,-0.6L-10.5,-0.6Z" fill="#ff0000"/><path transform="translate(536.13,361.17) rotate(22.5)" d="M0,-20.2L10.5,-0.6L5.4,-0.6L5.4,19.8L-5.4,19.8L-5.4,-0.6L-10.5,-0.6Z" fill="#ff0000"/><path transform="translate(544.67,351.70) rotate(22.5)" d="M0,-20.2L10.5,-0.6L5.4,-0.6L5.4,19.8L-5.4,19.8L-5.4,-0.6L-10.5,-0.6Z" fill="#ff0000"/><path transform="translate(553.20,351.70) rotate(22.5)" d="M0,-20.2L10.5,-0.6L5.4,-0.6L5.4,19.8L-5.4,19.8L-5.4,-0.6L-10.5,-0.6Z" fill="#ff0000"/><path transform="translate(561.74,342.23) rotate(0)" d="M0,-20.2L10.5,-0.6L5.4,-0.6L5.4,19.8L-5.4,19.8L-5.4,-0.6L-10.5,-0.6Z" fill="#ff0000"/><path transform="translate(570.28,342.23) rotate(0)" d="M0,-20.2L10.5,-0.6L5.4,-0.6L5.4,19.8L-5.4,19.8L-5.4,-0.6L-10.5,-0.6Z" fill="#ff0000"/><path transform="translate(578.81,342.23) rotate(0)" d="M0,-20.2L10.5,-0.6L5.4,-0.6L5.4,19.8L-5.4,19.8L-5.4,-0.6L-10.5,-0.6Z" fill="#ff0000"/><path transform="translate(587.35,342.23) rotate(-22.5)" d="M0,-20.2L10.5,-0.6L5.4,-0.6L5.4,19.8L-5.4,19.8L-5.4,-0.6L-10.5,-0.6Z" fill="#ff0000"/><path transform="translate(595.88,351.70) rotate(-22.5)" d="M0,-20.2L10.5,-0.6L5.4,-0.6L5.4,19.8L-5.4,19.8L-5.4,-0.6L-10.5,-0.6Z" fill="#ff0000"/><path transform="translate(604.42,351.70) rotate(-22.5)" d="M0,-20.2L10.5,-0.6L5.4,-0.6L5.4,19.8L-5.4,19.8L-5.4,-0.6L-10.5,-0.6Z" fill="#ff0000"/><path transform="translate(612.95,361.17) rotate(-22.5)" d="M0,-20.2L10.5,-0.6L5.4,-0.6L5.4,19.8L-5.4,19.8L-5.4,-0.6L-10.5,-0.6Z" fill="#ff0000"/><path transform="translate(621.49,361.17) rotate(-67.5)" d="M0,-20.2L10.5,-0.6L5.4,-0.6L5.4,19.8L-5.4,19.8L-5.4,-0.6L-10.5,-0.6Z" fill="#ff0000"/><path transform="translate(630.02,361.17) rotate(-67.5)" d="M0,-20.2L10.5,-0.6L5.4,-0.6L5.4,19.8L-5.4,19.8L-5.4,-0.6L-10.5,-0.6Z" fill="#ff0000"/><path transform="translate(638.56,361.17) rotate(202.5)" d="M0,-20.2L10.5,-0.6L5.4,-0.6L5.4,19.8L-5.4,19.8L-5.4,-0.6L-10.5,-0.6Z" fill="#ff0000"/><path transform="translate(647.10,361.17) rotate(202.5)" d="M0,-20.2L10.5,-0.6L5.4,-0.6L5.4,19.8L-5.4,19.8L-5.4,-0.6L-10.5,-0.6Z" fill="#ff0000"/><path transform="translate(655.63,351.70) rotate(180)" d="M0,-20.2L10.5,-0.6L5.4,-0.6L5.4,19.8L-5.4,19.8L-5.4,-0.6L-10.5,-0.6Z" fill="#ff0000"/><path transform="translate(664.17,332.77) rotate(180)" d="M0,-20.2L10.5,-0.6L5.4,-0.6L5.4,19.8L-5.4,19.8L-5.4,-0.6L-10.5,-0.6Z" fill="#ff0000"/><path transform="translate(672.70,323.30) rotate(180)" d="M0,-20.2L10.5,-0.6L5.4,-0.6L5.4,19.8L-5.4,19.8L-5.4,-0.6L-10.5,-0.6Z" fill="#ff0000"/><path transform="translate(681.24,313.83) rotate(157.5)" d="M0,-20.2L10.5,-0.6L5.4,-0.6L5.4,19.8L-5.4,19.8L-5.4,-0.6L-10.5,-0.6Z" fill="#ff0000"/><path transform="translate(689.77,313.83) rotate(157.5)" d="M0,-20.2L10.5,-0.6L5.4,-0.6L5.4,19.8L-5.4,19.8L-5.4,-0.6L-10.5,-0.6Z" fill="#ff0000"/><path transform="translate(698.31,313.83) rotate(135)" d="M0,-20.2L10.5,-0.6L5.4,-0.6L5.4,19.8L-5.4,19.8L-5.4,-0.6L-10.5,-0.6Z" fill="#ff0000"/><path transform="translate(706.85,323.30) rotate(112.5)" d="M0,-20.2L10.5,-0.6L5.4,-0.6L5.4,19.8L-5.4,19.8L-5.4,-0.6L-10.5,-0.6Z" fill="#ff0000"/><path transform="translate(715.38,323.30) rotate(67.5)" d="M0,-20.2L10.5,-0.6L5.4,-0.6L5.4,19.8L-5.4,19.8L-5.4,-0.6L-10.5,-0.6Z" fill="#ff0000"/><path transform="translate(723.92,332.77) rotate(0)" d="M0,-20.2L10.5,-0.6L5.4,-0.6L5.4,19.8L-5.4,19.8L-5.4,-0.6L-10.5,-0.6Z" fill="#ff0000"/><path transform="translate(732.45,332.77) rotate(0)" d="M0,-20.2L10.5,-0.6L5.4,-0.6L5.4,19.8L-5.4,19.8L-5.4,-0.6L-10.5,-0.6Z" fill="#ff0000"/><path transform="translate(740.99,332.77) rotate(0)" d="M0,-20.2L10.5,-0.6L5.4,-0.6L5.4,19.8L-5.4,19.8L-5.4,-0.6L-10.5,-0.6Z" fill="#ff0000"/><path transform="translate(749.53,332.77) rotate(0)" d="M0,-20.2L10.5,-0.6L5.4,-0.6L5.4,19.8L-5.4,19.8L-5.4,-0.6L-10.5,-0.6Z" fill="#ff0000"/><path transform="translate(758.06,332.77) rotate(0)" d="M0,-20.2L10.5,-0.6L5.4,-0.6L5.4,19.8L-5.4,19.8L-5.4,-0.6L-10.5,-0.6Z" fill="#ff0000"/><path transform="translate(766.60,332.77) rotate(0)" d="M0,-20.2L10.5,-0.6L5.4,-0.6L5.4,19.8L-5.4,19.8L-5.4,-0.6L-10.5,-0.6Z" fill="#ff0000"/><path transform="translate(775.13,332.77) rotate(-22.5)" d="M0,-20.2L10.5,-0.6L5.4,-0.6L5.4,19.8L-5.4,19.8L-5.4,-0.6L-10.5,-0.6Z" fill="#ff0000"/><path transform="translate(783.67,332.77) rotate(-22.5)" d="M0,-20.2L10.5,-0.6L5.4,-0.6L5.4,19.8L-5.4,19.8L-5.4,-0.6L-10.5,-0.6Z" fill="#ff0000"/><path transform="translate(792.20,332.77) rotate(-22.5)" d="M0,-20.2L10.5,-0.6L5.4,-0.6L5.4,19.8L-5.4,19.8L-5.4,-0.6L-10.5,-0.6Z" fill="#ff0000"/><path transform="translate(800.74,323.30) rotate(-22.5)" d="M0,-20.2L10.5,-0.6L5.4,-0.6L5.4,19.8L-5.4,19.8L-5.4,-0.6L-10.5,-0.6Z" fill="#ff0000"/><path transform="translate(809.28,323.30) rotate(-22.5)" d="M0,-20.2L10.5,-0.6L5.4,-0.6L5.4,19.8L-5.4,19.8L-5.4,-0.6L-10.5,-0.6Z" fill="#ff0000"/><path transform="translate(817.81,313.83) rotate(-22.5)" d="M0,-20.2L10.5,-0.6L5.4,-0.6L5.4,19.8L-5.4,19.8L-5.4,-0.6L-10.5,-0.6Z" fill="#ff0000"/><path transform="translate(826.35,304.37) rotate(-22.5)" d="M0,-20.2L10.5,-0.6L5.4,-0.6L5.4,19.8L-5.4,19.8L-5.4,-0.6L-10.5,-0.6Z" fill="#ff0000"/><path transform="translate(834.88,304.37) rotate(-22.5)" d="M0,-20.2L10.5,-0.6L5.4,-0.6L5.4,19.8L-5.4,19.8L-5.4,-0.6L-10.5,-0.6Z" fill="#ff0000"/><path transform="translate(843.42,294.90) rotate(-22.5)" d="M0,-20.2L10.5,-0.6L5.4,-0.6L5.4,19.8L-5.4,19.8L-5.4,-0.6L-10.5,-0.6Z" fill="#ffff00"/><path transform="translate(851.95,294.90) rotate(-22.5)" d="M0,-20.2L10.5,-0.6L5.4,-0.6L5.4,19.8L-5.4,19.8L-5.4,-0.6L-10.5,-0.6Z" fill="#ffff00"/><path transform="translate(860.49,294.90) rotate(-22.5)" d="M0,-20.2L10.5,-0.6L5.4,-0.6L5.4,19.8L-5.4,19.8L-5.4,-0.6L-10.5,-0.6Z" fill="#ffff00"/><path transform="translate(869.03,294.90) rotate(-22.5)" d="M0,-20.2L10.5,-0.6L5.4,-0.6L5.4,19.8L-5.4,19.8L-5.4,-0.6L-10.5,-0.6Z" fill="#ffff00"/><path transform="translate(877.56,294.90) rotate(-22.5)" d="M0,-20.2L10.5,-0.6L5.4,-0.6L5.4,19.8L-5.4,19.8L-5.4,-0.6L-10.5,-0.6Z" fill="#ffff00"/><path transform="translate(886.10,304.37) rotate(-22.5)" d="M0,-20.2L10.5,-0.6L5.4,-0.6L5.4,19.8L-5.4,19.8L-5.4,-0.6L-10.5,-0.6Z" fill="#ff0000"/><path transform="translate(894.63,304.37) rotate(-22.5)" d="M0,-20.2L10.5,-0.6L5.4,-0.6L5.4,19.8L-5.4,19.8L-5.4,-0.6L-10.5,-0.6Z" fill="#ff0000"/><path transform="translate(903.17,304.37) rotate(-22.5)" d="M0,-20.2L10.5,-0.6L5.4,-0.6L5.4,19.8L-5.4,19.8L-5.4,-0.6L-10.5,-0.6Z" fill="#ff0000"/><path transform="translate(911.70,304.37) rotate(-22.5)" d="M0,-20.2L10.5,-0.6L5.4,-0.6L5.4,19.8L-5.4,19.8L-5.4,-0.6L-10.5,-0.6Z" fill="#ff0000"/><path transform="translate(920.24,313.83) rotate(-22.5)" d="M0,-20.2L10.5,-0.6L5.4,-0.6L5.4,19.8L-5.4,19.8L-5.4,-0.6L-10.5,-0.6Z" fill="#ff0000"/><path transform="translate(928.78,313.83) rotate(-22.5)" d="M0,-20.2L10.5,-0.6L5.4,-0.6L5.4,19.8L-5.4,19.8L-5.4,-0.6L-10.5,-0.6Z" fill="#ff0000"/><path transform="translate(937.31,313.83) rotate(-22.5)" d="M0,-20.2L10.5,-0.6L5.4,-0.6L5.4,19.8L-5.4,19.8L-5.4,-0.6L-10.5,-0.6Z" fill="#ff0000"/><path transform="translate(945.85,313.83) rotate(-22.5)" d="M0,-20.2L10.5,-0.6L5.4,-0.6L5.4,19.8L-5.4,19.8L-5.4,-0.6L-10.5,-0.6Z" fill="#ff0000"/><path transform="translate(954.38,313.83) rotate(-22.5)" d="M0,-20.2L10.5,-0.6L5.4,-0.6L5.4,19.8L-5.4,19.8L-5.4,-0.6L-10.5,-0.6Z" fill="#ff0000"/><path transform="translate(962.92,313.83) rotate(-22.5)" d="M0,-20.2L10.5,-0.6L5.4,-0.6L5.4,19.8L-5.4,19.8L-5.4,-0.6L-10.5,-0.6Z" fill="#ff0000"/><path transform="translate(971.45,313.83) rotate(-22.5)" d="M0,-20.2L10.5,-0.6L5.4,-0.6L5.4,19.8L-5.4,19.8L-5.4,-0.6L-10.5,-0.6Z" fill="#ff0000"/><path transform="translate(979.99,313.83) rotate(-22.5)" d="M0,-20.2L10.5,-0.6L5.4,-0.6L5.4,19.8L-5.4,19.8L-5.4,-0.6L-10.5,-0.6Z" fill="#ff0000"/><path transform="translate(988.53,313.83) rotate(-22.5)" d="M0,-20.2L10.5,-0.6L5.4,-0.6L5.4,19.8L-5.4,19.8L-5.4,-0.6L-10.5,-0.6Z" fill="#ff0000"/><path transform="translate(997.06,313.83) rotate(-22.5)" d="M0,-20.2L10.5,-0.6L5.4,-0.6L5.4,19.8L-5.4,19.8L-5.4,-0.6L-10.5,-0.6Z" fill="#ff0000"/><path transform="translate(1005.60,323.30) rotate(-22.5)" d="M0,-20.2L10.5,-0.6L5.4,-0.6L5.4,19.8L-5.4,19.8L-5.4,-0.6L-10.5,-0.6Z" fill="#ff0000"/><path transform="translate(1014.13,323.30) rotate(-22.5)" d="M0,-20.2L10.5,-0.6L5.4,-0.6L5.4,19.8L-5.4,19.8L-5.4,-0.6L-10.5,-0.6Z" fill="#ff0000"/></g>
<text x="51.5" y="413.8" font-size="16" text-anchor="end" fill="#000">0</text>
<text x="51.5" y="366.8" font-size="16" text-anchor="end" fill="#000">1</text>
<text x="51.5" y="318.8" font-size="16" text-anchor="end" fill="#000">2</text>
<text x="51.5" y="271.8" font-size="16" text-anchor="end" fill="#000">3</text>
<text x="51.5" y="224.8" font-size="16" text-anchor="end" fill="#000">4</text>
<text x="51.5" y="176.8" font-size="16" text-anchor="end" fill="#000">5</text>
<text x="51.5" y="129.8" font-size="16" text-anchor="end" fill="#000">6</text>
<text x="1028" y="413.8" font-size="16" fill="#000">0</text>
<text x="1028" y="366.8" font-size="16" fill="#000">5</text>
<text x="1028" y="318.8" font-size="16" fill="#000">10</text>
<text x="1028" y="271.8" font-size="16" fill="#000">15</text>
<text x="1028" y="224.8" font-size="16" fill="#000">20</text>
<text x="1028" y="176.8" font-size="16" fill="#000">25</text>
<text x="1028" y="129.8" font-size="16" fill="#000">30</text>
<text transform="translate(21,377.5) rotate(-90)" font-size="23" textLength="221.5" lengthAdjust="spacingAndGlyphs" fill="#000">Wave Height - Metres</text>
<text transform="translate(1058.9,163.2) rotate(90)" font-size="23" textLength="206" lengthAdjust="spacingAndGlyphs" fill="#000">Wind Speed - Knots</text>
<text x="104.5" y="434.8" font-size="16" textLength="47.3" lengthAdjust="spacingAndGlyphs"  fill="#000">Friday</text>
<text x="231.3" y="434.8" font-size="16" textLength="71.4" lengthAdjust="spacingAndGlyphs" font-weight="bold" fill="#000">Saturday</text>
<text x="373.0" y="434.8" font-size="16" textLength="59.7" lengthAdjust="spacingAndGlyphs" font-weight="bold" fill="#000">Sunday</text>
<text x="507.9" y="434.8" font-size="16" textLength="59.8" lengthAdjust="spacingAndGlyphs"  fill="#000">Monday</text>
<text x="641.3" y="434.8" font-size="16" textLength="65.0" lengthAdjust="spacingAndGlyphs"  fill="#000">Tuesday</text>
<text x="765.5" y="434.8" font-size="16" textLength="88.1" lengthAdjust="spacingAndGlyphs"  fill="#000">Wednesday</text>
<text x="913.8" y="434.8" font-size="16" textLength="69.4" lengthAdjust="spacingAndGlyphs"  fill="#000">Thursday</text>
<text x="108.6" y="458.6" font-size="18.8" textLength="41.8" lengthAdjust="spacingAndGlyphs" fill="#838383">23rd</text>
<text x="245.4" y="458.6" font-size="18.8" textLength="41.8" lengthAdjust="spacingAndGlyphs" fill="#838383">24th</text>
<text x="382.1" y="458.6" font-size="18.8" textLength="41.8" lengthAdjust="spacingAndGlyphs" fill="#838383">25th</text>
<text x="518.1" y="458.6" font-size="18.8" textLength="41.8" lengthAdjust="spacingAndGlyphs" fill="#838383">26th</text>
<text x="655.3" y="458.6" font-size="18.8" textLength="41.8" lengthAdjust="spacingAndGlyphs" fill="#838383">27th</text>
<text x="791.1" y="458.6" font-size="18.8" textLength="41.8" lengthAdjust="spacingAndGlyphs" fill="#838383">28th</text>
<text x="928.1" y="458.6" font-size="18.8" textLength="41.8" lengthAdjust="spacingAndGlyphs" fill="#838383">29th</text>
<text x="893" y="400.6" font-size="10.6" textLength="118" lengthAdjust="spacingAndGlyphs" fill="#a6a6a6">www.seabreeze.com.au</text>
</svg></body></html>
